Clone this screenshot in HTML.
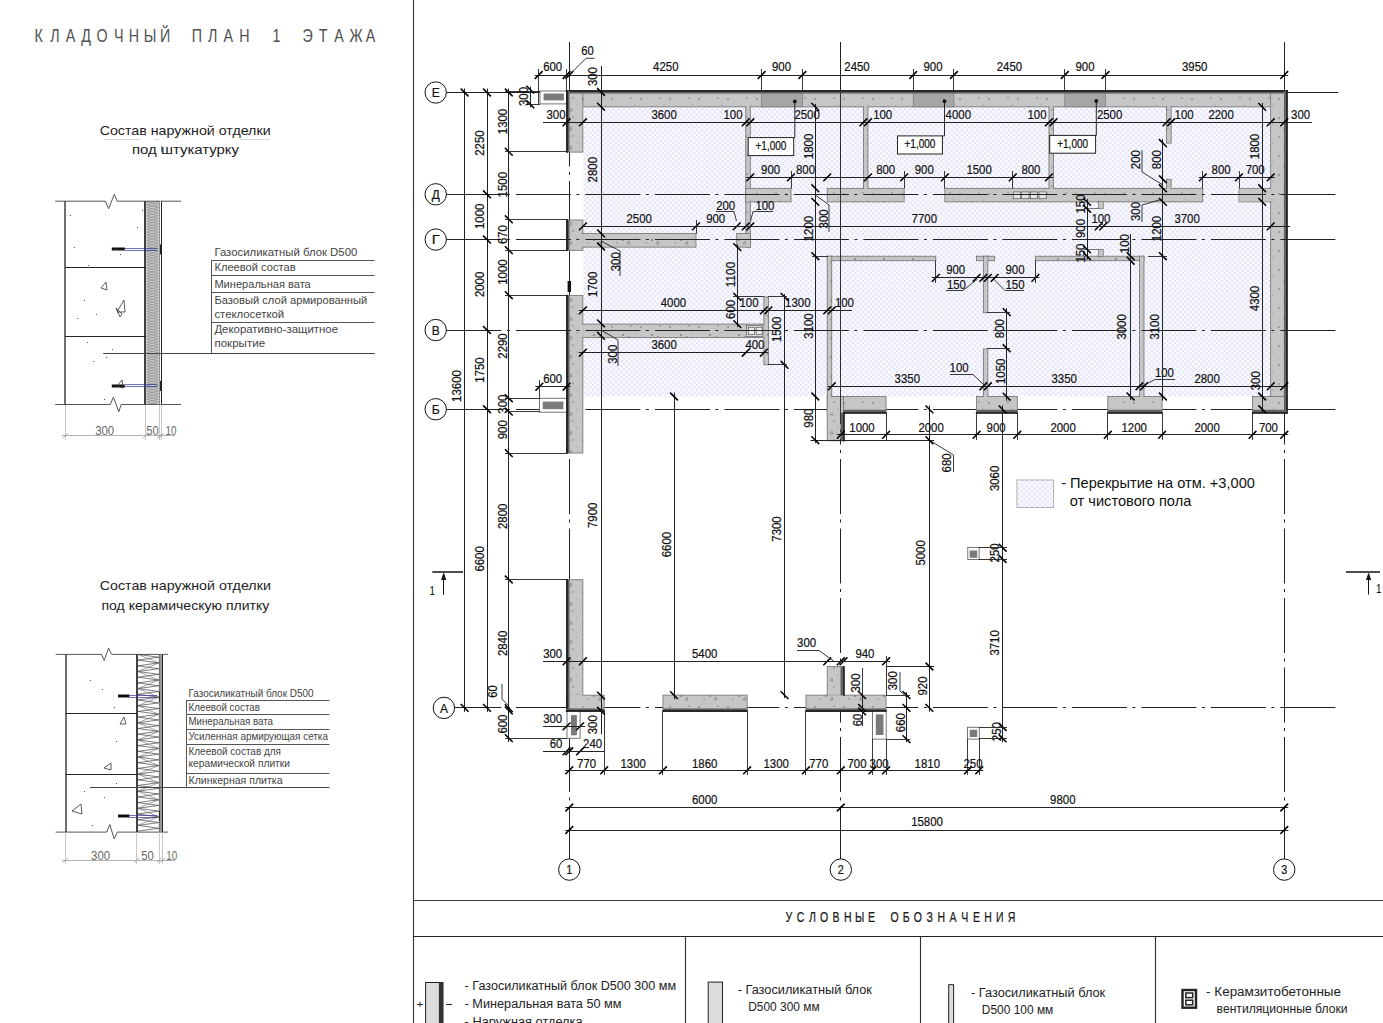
<!DOCTYPE html><html><head><meta charset="utf-8"><style>html,body{margin:0;padding:0;background:#fff;width:1383px;height:1023px;overflow:hidden}svg{display:block}text{font-family:"Liberation Sans",sans-serif}</style></head><body>
<svg width="1383" height="1023" viewBox="0 0 1383 1023">
<defs>
<pattern id="hatch" patternUnits="userSpaceOnUse" width="5.2" height="5.2">
<rect width="5.2" height="5.2" fill="#fbfbff"/>
<path d="M0,0 L5.2,5.2 M5.2,0 L0,5.2" stroke="#dadaf6" stroke-width="0.75"/>
</pattern>
<pattern id="speck" patternUnits="userSpaceOnUse" width="29" height="19">
<rect width="29" height="19" fill="#c6c6c6"/>
<circle cx="3" cy="4" r="0.8" fill="#6a6a6a"/>
<circle cx="14" cy="12" r="0.9" fill="#777"/>
<circle cx="22" cy="3" r="0.7" fill="#707070"/>
<circle cx="8" cy="15" r="0.7" fill="#808080"/>
<path d="M18,16 l2,-3 l1,3 z" fill="none" stroke="#777" stroke-width="0.6"/>
<circle cx="26" cy="10" r="0.6" fill="#888"/>
</pattern>
</defs>
<line x1="413.5" y1="0" x2="413.5" y2="1023" stroke="#3a3a3a" stroke-width="1.15"/>
<line x1="413" y1="900.5" x2="1383" y2="900.5" stroke="#3a3a3a" stroke-width="1.15"/>
<line x1="413" y1="936.5" x2="1383" y2="936.5" stroke="#222" stroke-width="1.15"/>
<line x1="685.5" y1="936" x2="685.5" y2="1023" stroke="#333" stroke-width="1.15"/>
<line x1="920.5" y1="936" x2="920.5" y2="1023" stroke="#333" stroke-width="1.15"/>
<line x1="1155.5" y1="936" x2="1155.5" y2="1023" stroke="#333" stroke-width="1.15"/>
<rect x="583.3" y="106.9" width="687" height="289.5" fill="url(#hatch)" stroke="none" stroke-width="1"/>
<line x1="446.4" y1="409.5" x2="1338.4" y2="409.5" stroke="#222" stroke-width="1" stroke-dasharray="55 5.5 3 6"/>
<line x1="446.4" y1="707.5" x2="1338.4" y2="707.5" stroke="#222" stroke-width="1" stroke-dasharray="55 5.5 3 6"/>
<line x1="446.4" y1="92.5" x2="567" y2="92.5" stroke="#222" stroke-width="1"/>
<line x1="1287" y1="92.5" x2="1338.4" y2="92.5" stroke="#222" stroke-width="1"/>
<line x1="569.5" y1="42" x2="569.5" y2="858.9" stroke="#222" stroke-width="1" stroke-dasharray="55 5.5 3 6"/>
<line x1="840.5" y1="42" x2="840.5" y2="858.9" stroke="#222" stroke-width="1" stroke-dasharray="55 5.5 3 6"/>
<line x1="1284.5" y1="42" x2="1284.5" y2="858.9" stroke="#222" stroke-width="1" stroke-dasharray="55 5.5 3 6"/>
<circle cx="435.7" cy="92.5" r="10.7" stroke="#111" stroke-width="1" fill="#fff"/>
<text x="435.7" y="97.18" font-size="13" text-anchor="middle" fill="#111" textLength="8" lengthAdjust="spacingAndGlyphs" font-family="Liberation Sans" stroke="#111" stroke-width="0.22">Е</text>
<circle cx="435.7" cy="194.31" r="10.7" stroke="#111" stroke-width="1" fill="#fff"/>
<text x="435.7" y="198.99" font-size="13" text-anchor="middle" fill="#111" textLength="8" lengthAdjust="spacingAndGlyphs" font-family="Liberation Sans" stroke="#111" stroke-width="0.22">Д</text>
<circle cx="435.7" cy="239.56" r="10.7" stroke="#111" stroke-width="1" fill="#fff"/>
<text x="435.7" y="244.24" font-size="13" text-anchor="middle" fill="#111" textLength="8" lengthAdjust="spacingAndGlyphs" font-family="Liberation Sans" stroke="#111" stroke-width="0.22">Г</text>
<circle cx="435.7" cy="330.06" r="10.7" stroke="#111" stroke-width="1" fill="#fff"/>
<text x="435.7" y="334.74" font-size="13" text-anchor="middle" fill="#111" textLength="8" lengthAdjust="spacingAndGlyphs" font-family="Liberation Sans" stroke="#111" stroke-width="0.22">В</text>
<circle cx="435.7" cy="409.25" r="10.7" stroke="#111" stroke-width="1" fill="#fff"/>
<text x="435.7" y="413.93" font-size="13" text-anchor="middle" fill="#111" textLength="8" lengthAdjust="spacingAndGlyphs" font-family="Liberation Sans" stroke="#111" stroke-width="0.22">Б</text>
<circle cx="443.9" cy="707.9" r="10.7" stroke="#111" stroke-width="1" fill="#fff"/>
<text x="443.9" y="712.58" font-size="13" text-anchor="middle" fill="#111" textLength="8" lengthAdjust="spacingAndGlyphs" font-family="Liberation Sans" stroke="#111" stroke-width="0.22">А</text>
<circle cx="569.3" cy="869.6" r="10.7" stroke="#111" stroke-width="1" fill="#fff"/>
<text x="569.3" y="874.28" font-size="13" text-anchor="middle" fill="#111" textLength="6" lengthAdjust="spacingAndGlyphs" font-family="Liberation Sans" stroke="#111" stroke-width="0.22">1</text>
<circle cx="840.8" cy="869.6" r="10.7" stroke="#111" stroke-width="1" fill="#fff"/>
<text x="840.8" y="874.28" font-size="13" text-anchor="middle" fill="#111" textLength="6" lengthAdjust="spacingAndGlyphs" font-family="Liberation Sans" stroke="#111" stroke-width="0.22">2</text>
<circle cx="1284.25" cy="869.6" r="10.7" stroke="#111" stroke-width="1" fill="#fff"/>
<text x="1284.25" y="874.28" font-size="13" text-anchor="middle" fill="#111" textLength="6" lengthAdjust="spacingAndGlyphs" font-family="Liberation Sans" stroke="#111" stroke-width="0.22">3</text>
<rect x="566.58" y="90.58" width="720.38" height="16.29" fill="url(#speck)" stroke="#707070" stroke-width="0.8"/>
<rect x="761.61" y="90.58" width="40.73" height="16.29" fill="#a6a6a6" stroke="#707070" stroke-width="0.6"/>
<rect x="913.2" y="90.58" width="40.73" height="16.29" fill="#a6a6a6" stroke="#707070" stroke-width="0.6"/>
<rect x="1064.79" y="90.58" width="40.72" height="16.29" fill="#a6a6a6" stroke="#707070" stroke-width="0.6"/>
<rect x="1270.67" y="90.58" width="16.29" height="322.18" fill="url(#speck)" stroke="#707070" stroke-width="0.8"/>
<rect x="1271.08" y="106.28" width="12.89" height="1.2" fill="#c6c6c6" stroke="none" stroke-width="1"/>
<rect x="566.58" y="90.58" width="16.29" height="61.54" fill="url(#speck)" stroke="#707070" stroke-width="0.8"/>
<rect x="566.58" y="220" width="16.29" height="30.32" fill="url(#speck)" stroke="#707070" stroke-width="0.8"/>
<rect x="566.58" y="295.57" width="16.29" height="157.47" fill="url(#speck)" stroke="#707070" stroke-width="0.8"/>
<rect x="569.58" y="106.28" width="12.89" height="1.2" fill="#c6c6c6" stroke="none" stroke-width="1"/>
<rect x="567.6" y="281" width="3.4" height="11" fill="#111" stroke="none" stroke-width="1"/>
<rect x="827.22" y="396.48" width="58.83" height="16.29" fill="url(#speck)" stroke="#707070" stroke-width="0.8"/>
<rect x="827.22" y="396.48" width="16.29" height="44.34" fill="url(#speck)" stroke="#707070" stroke-width="0.8"/>
<rect x="827.62" y="409.56" width="12.89" height="3.6" fill="#c6c6c6" stroke="none" stroke-width="1"/>
<rect x="976.55" y="396.48" width="40.72" height="16.29" fill="url(#speck)" stroke="#707070" stroke-width="0.8"/>
<rect x="1107.78" y="396.48" width="54.3" height="16.29" fill="url(#speck)" stroke="#707070" stroke-width="0.8"/>
<rect x="1252.57" y="396.48" width="34.39" height="16.29" fill="url(#speck)" stroke="#707070" stroke-width="0.8"/>
<rect x="566.58" y="579.74" width="16.29" height="131.68" fill="url(#speck)" stroke="#707070" stroke-width="0.8"/>
<rect x="566.58" y="695.12" width="37.56" height="16.29" fill="url(#speck)" stroke="#707070" stroke-width="0.8"/>
<rect x="569.58" y="694.52" width="12.89" height="13.69" fill="#c6c6c6" stroke="none" stroke-width="1"/>
<rect x="662.97" y="695.12" width="84.16" height="16.29" fill="url(#speck)" stroke="#707070" stroke-width="0.8"/>
<rect x="805.96" y="695.12" width="80.09" height="16.29" fill="url(#speck)" stroke="#707070" stroke-width="0.8"/>
<rect x="827.22" y="666.62" width="16.29" height="28.51" fill="url(#speck)" stroke="#707070" stroke-width="0.8"/>
<rect x="827.62" y="694.52" width="15.49" height="1.2" fill="#c6c6c6" stroke="none" stroke-width="1"/>
<rect x="745.77" y="106.88" width="4.52" height="140.27" fill="url(#speck)" stroke="#707070" stroke-width="0.8"/>
<rect x="582.88" y="233.57" width="113.12" height="13.57" fill="url(#speck)" stroke="#707070" stroke-width="0.8"/>
<rect x="736.72" y="233.57" width="13.58" height="13.57" fill="url(#speck)" stroke="#707070" stroke-width="0.8"/>
<rect x="745.77" y="188.32" width="45.25" height="13.57" fill="url(#speck)" stroke="#707070" stroke-width="0.8"/>
<rect x="827.22" y="188.32" width="76.92" height="13.57" fill="url(#speck)" stroke="#707070" stroke-width="0.8"/>
<rect x="944.88" y="188.32" width="257.92" height="13.57" fill="url(#speck)" stroke="#707070" stroke-width="0.8"/>
<rect x="1239" y="188.32" width="31.67" height="13.57" fill="url(#speck)" stroke="#707070" stroke-width="0.8"/>
<rect x="863.42" y="106.88" width="4.52" height="81.45" fill="url(#speck)" stroke="#707070" stroke-width="0.8"/>
<rect x="1048.95" y="106.88" width="4.53" height="81.45" fill="url(#speck)" stroke="#707070" stroke-width="0.8"/>
<rect x="1166.6" y="106.88" width="4.53" height="36.2" fill="url(#speck)" stroke="#707070" stroke-width="0.8"/>
<rect x="1166.6" y="179.27" width="4.53" height="9.05" fill="url(#speck)" stroke="#707070" stroke-width="0.8"/>
<rect x="582.88" y="324.07" width="181" height="13.57" fill="url(#speck)" stroke="#707070" stroke-width="0.8"/>
<rect x="763.88" y="296.93" width="4.52" height="67.88" fill="url(#speck)" stroke="#707070" stroke-width="0.8"/>
<rect x="827.22" y="256.2" width="108.6" height="4.52" fill="url(#speck)" stroke="#707070" stroke-width="0.8"/>
<rect x="827.22" y="256.2" width="4.53" height="140.28" fill="url(#speck)" stroke="#707070" stroke-width="0.8"/>
<rect x="976.55" y="256.2" width="18.1" height="4.52" fill="url(#speck)" stroke="#707070" stroke-width="0.8"/>
<rect x="983.34" y="256.2" width="4.53" height="56.56" fill="url(#speck)" stroke="#707070" stroke-width="0.8"/>
<rect x="983.34" y="348.96" width="4.53" height="47.51" fill="url(#speck)" stroke="#707070" stroke-width="0.8"/>
<rect x="1035.38" y="256.2" width="108.6" height="4.52" fill="url(#speck)" stroke="#707070" stroke-width="0.8"/>
<rect x="1139.45" y="256.2" width="4.53" height="140.28" fill="url(#speck)" stroke="#707070" stroke-width="0.8"/>
<rect x="746.32" y="188.87" width="3.44" height="12.49" fill="#c6c6c6" stroke="none" stroke-width="1"/>
<rect x="746.32" y="234.12" width="3.44" height="12.49" fill="#c6c6c6" stroke="none" stroke-width="1"/>
<rect x="827.77" y="256.74" width="3.44" height="3.44" fill="#c6c6c6" stroke="none" stroke-width="1"/>
<rect x="983.88" y="256.74" width="3.44" height="3.44" fill="#c6c6c6" stroke="none" stroke-width="1"/>
<rect x="1139.99" y="256.74" width="3.44" height="3.44" fill="#c6c6c6" stroke="none" stroke-width="1"/>
<rect x="863.97" y="187.42" width="3.44" height="1.81" fill="#c6c6c6" stroke="none" stroke-width="1"/>
<rect x="1049.49" y="187.42" width="3.44" height="1.81" fill="#c6c6c6" stroke="none" stroke-width="1"/>
<rect x="1167.14" y="187.42" width="3.44" height="1.81" fill="#c6c6c6" stroke="none" stroke-width="1"/>
<rect x="863.97" y="105.97" width="3.44" height="1.81" fill="#c6c6c6" stroke="none" stroke-width="1"/>
<rect x="1049.49" y="105.97" width="3.44" height="1.81" fill="#c6c6c6" stroke="none" stroke-width="1"/>
<rect x="1167.14" y="105.97" width="3.44" height="1.81" fill="#c6c6c6" stroke="none" stroke-width="1"/>
<rect x="746.32" y="105.97" width="3.44" height="1.81" fill="#c6c6c6" stroke="none" stroke-width="1"/>
<rect x="1239.54" y="188.87" width="32.04" height="12.49" fill="#c6c6c6" stroke="none" stroke-width="1"/>
<rect x="581.97" y="234.12" width="1.81" height="12.49" fill="#c6c6c6" stroke="none" stroke-width="1"/>
<rect x="581.97" y="324.62" width="1.81" height="12.49" fill="#c6c6c6" stroke="none" stroke-width="1"/>
<rect x="762.97" y="324.62" width="1.81" height="12.49" fill="#c6c6c6" stroke="none" stroke-width="1"/>
<rect x="827.77" y="395.57" width="3.44" height="1.81" fill="#c6c6c6" stroke="none" stroke-width="1"/>
<rect x="983.88" y="395.57" width="3.44" height="1.81" fill="#c6c6c6" stroke="none" stroke-width="1"/>
<rect x="1139.99" y="395.57" width="3.44" height="1.81" fill="#c6c6c6" stroke="none" stroke-width="1"/>
<rect x="1253.12" y="397.02" width="18.46" height="15.2" fill="#c6c6c6" stroke="none" stroke-width="1"/>
<rect x="746.68" y="325.43" width="16.29" height="10.86" fill="#d8d8d8" stroke="#555" stroke-width="0.6"/>
<rect x="748.49" y="327.24" width="5.88" height="7.24" fill="#eee" stroke="#444" stroke-width="0.6"/>
<rect x="756.18" y="327.24" width="5.88" height="7.24" fill="#eee" stroke="#444" stroke-width="0.6"/>
<rect x="1013.2" y="191.94" width="7.24" height="6.79" fill="#e4e4e4" stroke="#444" stroke-width="0.6"/>
<rect x="1021.8" y="191.94" width="7.24" height="6.79" fill="#e4e4e4" stroke="#444" stroke-width="0.6"/>
<rect x="1030.4" y="191.94" width="7.24" height="6.79" fill="#e4e4e4" stroke="#444" stroke-width="0.6"/>
<rect x="1038.99" y="191.94" width="7.24" height="6.79" fill="#e4e4e4" stroke="#444" stroke-width="0.6"/>
<rect x="540" y="91" width="27.4" height="12.9" fill="#fff" stroke="#666" stroke-width="0.9"/>
<rect x="543.6" y="93.5" width="20.3" height="6.9" fill="#7a7a7a" stroke="none" stroke-width="1"/>
<rect x="539.4" y="398.3" width="27.6" height="13.9" fill="#fff" stroke="#666" stroke-width="0.9"/>
<rect x="542.7" y="401.6" width="20.7" height="7.6" fill="#7a7a7a" stroke="none" stroke-width="1"/>
<rect x="567" y="710.8" width="13.1" height="27.5" fill="#fff" stroke="#666" stroke-width="0.9"/>
<rect x="571" y="715.1" width="5.9" height="20.2" fill="#7a7a7a" stroke="none" stroke-width="1"/>
<rect x="872.5" y="710.3" width="13.7" height="28.8" fill="#fff" stroke="#666" stroke-width="0.9"/>
<rect x="875.8" y="714.4" width="7.7" height="20.6" fill="#7a7a7a" stroke="none" stroke-width="1"/>
<rect x="967.5" y="727.3" width="11.8" height="11.8" fill="#fff" stroke="#666" stroke-width="0.9"/>
<rect x="969.7" y="729.8" width="7.5" height="7.2" fill="#7a7a7a" stroke="none" stroke-width="1"/>
<rect x="967.8" y="547.4" width="11.3" height="12.1" fill="#fff" stroke="#666" stroke-width="0.9"/>
<rect x="969.7" y="550.5" width="7.5" height="7.3" fill="#7a7a7a" stroke="none" stroke-width="1"/>
<rect x="566.58" y="90.58" width="720.38" height="3" fill="#626262" stroke="none" stroke-width="1"/>
<line x1="565.88" y1="91" x2="1287.66" y2="91" stroke="#111" stroke-width="1.5"/>
<rect x="1283.96" y="90.58" width="3" height="322.18" fill="#626262" stroke="none" stroke-width="1"/>
<line x1="1287" y1="89.88" x2="1287" y2="413.46" stroke="#111" stroke-width="1.5"/>
<rect x="566.58" y="90.58" width="3" height="61.54" fill="#626262" stroke="none" stroke-width="1"/>
<line x1="567" y1="89.88" x2="567" y2="152.82" stroke="#111" stroke-width="1.5"/>
<rect x="566.58" y="220" width="3" height="30.32" fill="#626262" stroke="none" stroke-width="1"/>
<line x1="567" y1="219.3" x2="567" y2="251.02" stroke="#111" stroke-width="1.5"/>
<rect x="566.58" y="295.57" width="3" height="157.47" fill="#626262" stroke="none" stroke-width="1"/>
<line x1="567" y1="294.87" x2="567" y2="453.74" stroke="#111" stroke-width="1.5"/>
<rect x="843.51" y="409.76" width="42.54" height="3" fill="#626262" stroke="none" stroke-width="1"/>
<line x1="842.81" y1="413" x2="886.75" y2="413" stroke="#111" stroke-width="1.5"/>
<rect x="840.51" y="412.76" width="3" height="28.06" fill="#626262" stroke="none" stroke-width="1"/>
<line x1="844" y1="412.06" x2="844" y2="441.52" stroke="#111" stroke-width="1.5"/>
<rect x="976.55" y="409.76" width="40.72" height="3" fill="#626262" stroke="none" stroke-width="1"/>
<line x1="975.85" y1="413" x2="1017.97" y2="413" stroke="#111" stroke-width="1.5"/>
<rect x="1107.78" y="409.76" width="54.3" height="3" fill="#626262" stroke="none" stroke-width="1"/>
<line x1="1107.08" y1="413" x2="1162.77" y2="413" stroke="#111" stroke-width="1.5"/>
<rect x="1252.57" y="409.76" width="34.39" height="3" fill="#626262" stroke="none" stroke-width="1"/>
<line x1="1251.87" y1="413" x2="1287.66" y2="413" stroke="#111" stroke-width="1.5"/>
<rect x="566.58" y="579.74" width="3" height="131.68" fill="#626262" stroke="none" stroke-width="1"/>
<line x1="567" y1="579.04" x2="567" y2="712.12" stroke="#111" stroke-width="1.5"/>
<rect x="566.58" y="708.41" width="37.56" height="3" fill="#626262" stroke="none" stroke-width="1"/>
<line x1="565.88" y1="711" x2="604.84" y2="711" stroke="#111" stroke-width="1.5"/>
<rect x="662.97" y="708.41" width="84.16" height="3" fill="#626262" stroke="none" stroke-width="1"/>
<line x1="662.27" y1="711" x2="747.83" y2="711" stroke="#111" stroke-width="1.5"/>
<rect x="805.96" y="708.41" width="80.09" height="3" fill="#626262" stroke="none" stroke-width="1"/>
<line x1="805.26" y1="711" x2="886.75" y2="711" stroke="#111" stroke-width="1.5"/>
<rect x="840.51" y="666.62" width="3" height="28.51" fill="#626262" stroke="none" stroke-width="1"/>
<line x1="844" y1="665.92" x2="844" y2="695.82" stroke="#111" stroke-width="1.5"/>
<rect x="1098.5" y="201.4" width="4.75" height="7.29" fill="#c6c6c6" stroke="#707070" stroke-width="0.7"/>
<line x1="1084" y1="208.5" x2="1098.5" y2="208.5" stroke="#555" stroke-width="0.8"/>
<rect x="1098.5" y="249.41" width="4.75" height="7.29" fill="#c6c6c6" stroke="#707070" stroke-width="0.7"/>
<line x1="1084" y1="249.5" x2="1098.5" y2="249.5" stroke="#555" stroke-width="0.8"/>
<line x1="446.4" y1="194.5" x2="1338.4" y2="194.5" stroke="#222" stroke-width="1" stroke-dasharray="55 5.5 3 6"/>
<line x1="446.4" y1="239.5" x2="1338.4" y2="239.5" stroke="#222" stroke-width="1" stroke-dasharray="55 5.5 3 6"/>
<line x1="446.4" y1="330.5" x2="1338.4" y2="330.5" stroke="#222" stroke-width="1" stroke-dasharray="55 5.5 3 6"/>
<line x1="840.5" y1="91" x2="840.5" y2="440" stroke="#333" stroke-width="1" stroke-dasharray="55 5.5 3 6"/>
<line x1="534.7" y1="75.5" x2="1288.25" y2="75.5" stroke="#222" stroke-width="1"/>
<line x1="534.8" y1="78.9" x2="542.6" y2="71.1" stroke="#000" stroke-width="1.55"/>
<line x1="562.68" y1="78.9" x2="570.48" y2="71.1" stroke="#000" stroke-width="1.55"/>
<line x1="565.4" y1="78.9" x2="573.2" y2="71.1" stroke="#000" stroke-width="1.55"/>
<line x1="757.71" y1="78.9" x2="765.51" y2="71.1" stroke="#000" stroke-width="1.55"/>
<line x1="798.44" y1="78.9" x2="806.24" y2="71.1" stroke="#000" stroke-width="1.55"/>
<line x1="909.3" y1="78.9" x2="917.1" y2="71.1" stroke="#000" stroke-width="1.55"/>
<line x1="950.02" y1="78.9" x2="957.82" y2="71.1" stroke="#000" stroke-width="1.55"/>
<line x1="1060.89" y1="78.9" x2="1068.69" y2="71.1" stroke="#000" stroke-width="1.55"/>
<line x1="1101.61" y1="78.9" x2="1109.41" y2="71.1" stroke="#000" stroke-width="1.55"/>
<line x1="1280.35" y1="78.9" x2="1288.15" y2="71.1" stroke="#000" stroke-width="1.55"/>
<line x1="538.5" y1="69" x2="538.5" y2="104" stroke="#222" stroke-width="0.9"/>
<line x1="566.5" y1="69" x2="566.5" y2="104" stroke="#222" stroke-width="0.9"/>
<line x1="761.5" y1="69" x2="761.5" y2="91" stroke="#222" stroke-width="0.9"/>
<line x1="802.5" y1="69" x2="802.5" y2="91" stroke="#222" stroke-width="0.9"/>
<line x1="913.5" y1="69" x2="913.5" y2="91" stroke="#222" stroke-width="0.9"/>
<line x1="953.5" y1="69" x2="953.5" y2="91" stroke="#222" stroke-width="0.9"/>
<line x1="1064.5" y1="69" x2="1064.5" y2="91" stroke="#222" stroke-width="0.9"/>
<line x1="1105.5" y1="69" x2="1105.5" y2="91" stroke="#222" stroke-width="0.9"/>
<polyline points="569.3,75 586,58.3 594.5,58.3" stroke="#222" stroke-width="0.9" fill="none"/>
<text x="587.6" y="55.28" font-size="13" text-anchor="middle" fill="#111" textLength="12.5" lengthAdjust="spacingAndGlyphs" font-family="Liberation Sans" stroke="#111" stroke-width="0.22">60</text>
<text x="552.7" y="71.18" font-size="13" text-anchor="middle" fill="#111" textLength="19.05" lengthAdjust="spacingAndGlyphs" font-family="Liberation Sans" stroke="#111" stroke-width="0.22">600</text>
<text x="665.8" y="71.18" font-size="13" text-anchor="middle" fill="#111" textLength="25.4" lengthAdjust="spacingAndGlyphs" font-family="Liberation Sans" stroke="#111" stroke-width="0.22">4250</text>
<text x="781.5" y="71.18" font-size="13" text-anchor="middle" fill="#111" textLength="19.05" lengthAdjust="spacingAndGlyphs" font-family="Liberation Sans" stroke="#111" stroke-width="0.22">900</text>
<text x="857" y="71.18" font-size="13" text-anchor="middle" fill="#111" textLength="25.4" lengthAdjust="spacingAndGlyphs" font-family="Liberation Sans" stroke="#111" stroke-width="0.22">2450</text>
<text x="933" y="71.18" font-size="13" text-anchor="middle" fill="#111" textLength="19.05" lengthAdjust="spacingAndGlyphs" font-family="Liberation Sans" stroke="#111" stroke-width="0.22">900</text>
<text x="1009.4" y="71.18" font-size="13" text-anchor="middle" fill="#111" textLength="25.4" lengthAdjust="spacingAndGlyphs" font-family="Liberation Sans" stroke="#111" stroke-width="0.22">2450</text>
<text x="1085" y="71.18" font-size="13" text-anchor="middle" fill="#111" textLength="19.05" lengthAdjust="spacingAndGlyphs" font-family="Liberation Sans" stroke="#111" stroke-width="0.22">900</text>
<text x="1194.7" y="71.18" font-size="13" text-anchor="middle" fill="#111" textLength="25.4" lengthAdjust="spacingAndGlyphs" font-family="Liberation Sans" stroke="#111" stroke-width="0.22">3950</text>
<line x1="566.58" y1="122.5" x2="1284.25" y2="122.5" stroke="#222" stroke-width="1"/>
<line x1="562.68" y1="126.2" x2="570.48" y2="118.4" stroke="#000" stroke-width="1.55"/>
<line x1="578.98" y1="126.2" x2="586.77" y2="118.4" stroke="#000" stroke-width="1.55"/>
<line x1="741.88" y1="126.2" x2="749.67" y2="118.4" stroke="#000" stroke-width="1.55"/>
<line x1="746.4" y1="126.2" x2="754.2" y2="118.4" stroke="#000" stroke-width="1.55"/>
<line x1="859.52" y1="126.2" x2="867.32" y2="118.4" stroke="#000" stroke-width="1.55"/>
<line x1="864.05" y1="126.2" x2="871.85" y2="118.4" stroke="#000" stroke-width="1.55"/>
<line x1="1045.05" y1="126.2" x2="1052.85" y2="118.4" stroke="#000" stroke-width="1.55"/>
<line x1="1049.57" y1="126.2" x2="1057.38" y2="118.4" stroke="#000" stroke-width="1.55"/>
<line x1="1162.7" y1="126.2" x2="1170.5" y2="118.4" stroke="#000" stroke-width="1.55"/>
<line x1="1167.22" y1="126.2" x2="1175.03" y2="118.4" stroke="#000" stroke-width="1.55"/>
<line x1="1266.77" y1="126.2" x2="1274.58" y2="118.4" stroke="#000" stroke-width="1.55"/>
<line x1="1280.35" y1="126.2" x2="1288.15" y2="118.4" stroke="#000" stroke-width="1.55"/>
<line x1="543" y1="122.5" x2="567" y2="122.5" stroke="#222" stroke-width="1"/>
<line x1="1284" y1="122.5" x2="1312" y2="122.5" stroke="#222" stroke-width="1"/>
<text x="556" y="119.18" font-size="13" text-anchor="middle" fill="#111" textLength="19.05" lengthAdjust="spacingAndGlyphs" font-family="Liberation Sans" stroke="#111" stroke-width="0.22">300</text>
<text x="664.1" y="119.18" font-size="13" text-anchor="middle" fill="#111" textLength="25.4" lengthAdjust="spacingAndGlyphs" font-family="Liberation Sans" stroke="#111" stroke-width="0.22">3600</text>
<text x="733" y="119.18" font-size="13" text-anchor="middle" fill="#111" textLength="19.05" lengthAdjust="spacingAndGlyphs" font-family="Liberation Sans" stroke="#111" stroke-width="0.22">100</text>
<text x="807.1" y="119.18" font-size="13" text-anchor="middle" fill="#111" textLength="25.4" lengthAdjust="spacingAndGlyphs" font-family="Liberation Sans" stroke="#111" stroke-width="0.22">2500</text>
<text x="882.7" y="119.18" font-size="13" text-anchor="middle" fill="#111" textLength="19.05" lengthAdjust="spacingAndGlyphs" font-family="Liberation Sans" stroke="#111" stroke-width="0.22">100</text>
<text x="958.3" y="119.18" font-size="13" text-anchor="middle" fill="#111" textLength="25.4" lengthAdjust="spacingAndGlyphs" font-family="Liberation Sans" stroke="#111" stroke-width="0.22">4000</text>
<text x="1037" y="119.18" font-size="13" text-anchor="middle" fill="#111" textLength="19.05" lengthAdjust="spacingAndGlyphs" font-family="Liberation Sans" stroke="#111" stroke-width="0.22">100</text>
<text x="1109.6" y="119.18" font-size="13" text-anchor="middle" fill="#111" textLength="25.4" lengthAdjust="spacingAndGlyphs" font-family="Liberation Sans" stroke="#111" stroke-width="0.22">2500</text>
<text x="1184.1" y="119.18" font-size="13" text-anchor="middle" fill="#111" textLength="19.05" lengthAdjust="spacingAndGlyphs" font-family="Liberation Sans" stroke="#111" stroke-width="0.22">100</text>
<text x="1221.1" y="119.18" font-size="13" text-anchor="middle" fill="#111" textLength="25.4" lengthAdjust="spacingAndGlyphs" font-family="Liberation Sans" stroke="#111" stroke-width="0.22">2200</text>
<text x="1300.6" y="119.18" font-size="13" text-anchor="middle" fill="#111" textLength="19.05" lengthAdjust="spacingAndGlyphs" font-family="Liberation Sans" stroke="#111" stroke-width="0.22">300</text>
<line x1="746.3" y1="177.5" x2="1052.95" y2="177.5" stroke="#222" stroke-width="1"/>
<line x1="746.4" y1="181.3" x2="754.2" y2="173.5" stroke="#000" stroke-width="1.55"/>
<line x1="787.12" y1="181.3" x2="794.92" y2="173.5" stroke="#000" stroke-width="1.55"/>
<line x1="823.32" y1="181.3" x2="831.12" y2="173.5" stroke="#000" stroke-width="1.55"/>
<line x1="864.05" y1="181.3" x2="871.85" y2="173.5" stroke="#000" stroke-width="1.55"/>
<line x1="900.25" y1="181.3" x2="908.05" y2="173.5" stroke="#000" stroke-width="1.55"/>
<line x1="940.98" y1="181.3" x2="948.77" y2="173.5" stroke="#000" stroke-width="1.55"/>
<line x1="1008.85" y1="181.3" x2="1016.65" y2="173.5" stroke="#000" stroke-width="1.55"/>
<line x1="1045.05" y1="181.3" x2="1052.85" y2="173.5" stroke="#000" stroke-width="1.55"/>
<line x1="1198.8" y1="177.5" x2="1274.67" y2="177.5" stroke="#222" stroke-width="1"/>
<line x1="1198.9" y1="181.3" x2="1206.7" y2="173.5" stroke="#000" stroke-width="1.55"/>
<line x1="1235.1" y1="181.3" x2="1242.9" y2="173.5" stroke="#000" stroke-width="1.55"/>
<line x1="1266.77" y1="181.3" x2="1274.58" y2="173.5" stroke="#000" stroke-width="1.55"/>
<line x1="791.5" y1="171" x2="791.5" y2="188.32" stroke="#222" stroke-width="0.9"/>
<line x1="904.5" y1="171" x2="904.5" y2="188.32" stroke="#222" stroke-width="0.9"/>
<line x1="944.5" y1="171" x2="944.5" y2="188.32" stroke="#222" stroke-width="0.9"/>
<line x1="1012.5" y1="171" x2="1012.5" y2="188.32" stroke="#222" stroke-width="0.9"/>
<line x1="1239.5" y1="171" x2="1239.5" y2="188.32" stroke="#222" stroke-width="0.9"/>
<line x1="1202.5" y1="171" x2="1202.5" y2="188.32" stroke="#222" stroke-width="0.9"/>
<text x="770.6" y="174.48" font-size="13" text-anchor="middle" fill="#111" textLength="19.05" lengthAdjust="spacingAndGlyphs" font-family="Liberation Sans" stroke="#111" stroke-width="0.22">900</text>
<text x="805.5" y="174.48" font-size="13" text-anchor="middle" fill="#111" textLength="19.05" lengthAdjust="spacingAndGlyphs" font-family="Liberation Sans" stroke="#111" stroke-width="0.22">800</text>
<text x="885.7" y="174.48" font-size="13" text-anchor="middle" fill="#111" textLength="19.05" lengthAdjust="spacingAndGlyphs" font-family="Liberation Sans" stroke="#111" stroke-width="0.22">800</text>
<text x="924.3" y="174.48" font-size="13" text-anchor="middle" fill="#111" textLength="19.05" lengthAdjust="spacingAndGlyphs" font-family="Liberation Sans" stroke="#111" stroke-width="0.22">900</text>
<text x="979.1" y="174.48" font-size="13" text-anchor="middle" fill="#111" textLength="25.4" lengthAdjust="spacingAndGlyphs" font-family="Liberation Sans" stroke="#111" stroke-width="0.22">1500</text>
<text x="1030.9" y="174.48" font-size="13" text-anchor="middle" fill="#111" textLength="19.05" lengthAdjust="spacingAndGlyphs" font-family="Liberation Sans" stroke="#111" stroke-width="0.22">800</text>
<text x="1221.1" y="174.48" font-size="13" text-anchor="middle" fill="#111" textLength="19.05" lengthAdjust="spacingAndGlyphs" font-family="Liberation Sans" stroke="#111" stroke-width="0.22">800</text>
<text x="1255.2" y="174.48" font-size="13" text-anchor="middle" fill="#111" textLength="19.05" lengthAdjust="spacingAndGlyphs" font-family="Liberation Sans" stroke="#111" stroke-width="0.22">700</text>
<line x1="582.88" y1="226.5" x2="1270.67" y2="226.5" stroke="#222" stroke-width="1"/>
<line x1="578.98" y1="230.3" x2="586.77" y2="222.5" stroke="#000" stroke-width="1.55"/>
<line x1="692.1" y1="230.3" x2="699.9" y2="222.5" stroke="#000" stroke-width="1.55"/>
<line x1="732.82" y1="230.3" x2="740.62" y2="222.5" stroke="#000" stroke-width="1.55"/>
<line x1="741.88" y1="230.3" x2="749.67" y2="222.5" stroke="#000" stroke-width="1.55"/>
<line x1="746.4" y1="230.3" x2="754.2" y2="222.5" stroke="#000" stroke-width="1.55"/>
<line x1="1094.82" y1="230.3" x2="1102.62" y2="222.5" stroke="#000" stroke-width="1.55"/>
<line x1="1099.35" y1="230.3" x2="1107.15" y2="222.5" stroke="#000" stroke-width="1.55"/>
<line x1="1266.77" y1="230.3" x2="1274.58" y2="222.5" stroke="#000" stroke-width="1.55"/>
<line x1="583" y1="226.5" x2="1290" y2="226.5" stroke="#222" stroke-width="1"/>
<line x1="696.5" y1="220" x2="696.5" y2="233.5" stroke="#222" stroke-width="0.9"/>
<text x="639.2" y="223.18" font-size="13" text-anchor="middle" fill="#111" textLength="25.4" lengthAdjust="spacingAndGlyphs" font-family="Liberation Sans" stroke="#111" stroke-width="0.22">2500</text>
<text x="715.7" y="223.18" font-size="13" text-anchor="middle" fill="#111" textLength="19.05" lengthAdjust="spacingAndGlyphs" font-family="Liberation Sans" stroke="#111" stroke-width="0.22">900</text>
<text x="924.3" y="223.18" font-size="13" text-anchor="middle" fill="#111" textLength="25.4" lengthAdjust="spacingAndGlyphs" font-family="Liberation Sans" stroke="#111" stroke-width="0.22">7700</text>
<text x="1187.1" y="223.18" font-size="13" text-anchor="middle" fill="#111" textLength="25.4" lengthAdjust="spacingAndGlyphs" font-family="Liberation Sans" stroke="#111" stroke-width="0.22">3700</text>
<polyline points="736.5,221 734,211.5 716,211.5" stroke="#222" stroke-width="0.9" fill="none"/>
<text x="725.7" y="209.98" font-size="13" text-anchor="middle" fill="#111" textLength="19.05" lengthAdjust="spacingAndGlyphs" font-family="Liberation Sans" stroke="#111" stroke-width="0.22">200</text>
<polyline points="750.5,221 753,211.5 773,211.5" stroke="#222" stroke-width="0.9" fill="none"/>
<text x="764.9" y="209.98" font-size="13" text-anchor="middle" fill="#111" textLength="19.05" lengthAdjust="spacingAndGlyphs" font-family="Liberation Sans" stroke="#111" stroke-width="0.22">100</text>
<polyline points="1100,222 1103,225" stroke="#222" stroke-width="0.9" fill="none"/>
<text x="1100.9" y="222.98" font-size="13" text-anchor="middle" fill="#111" textLength="19.05" lengthAdjust="spacingAndGlyphs" font-family="Liberation Sans" stroke="#111" stroke-width="0.22">100</text>
<line x1="931.82" y1="277.5" x2="1039.38" y2="277.5" stroke="#222" stroke-width="1"/>
<line x1="931.92" y1="281.8" x2="939.72" y2="274" stroke="#000" stroke-width="1.55"/>
<line x1="972.65" y1="281.8" x2="980.45" y2="274" stroke="#000" stroke-width="1.55"/>
<line x1="979.44" y1="281.8" x2="987.24" y2="274" stroke="#000" stroke-width="1.55"/>
<line x1="983.96" y1="281.8" x2="991.76" y2="274" stroke="#000" stroke-width="1.55"/>
<line x1="990.75" y1="281.8" x2="998.55" y2="274" stroke="#000" stroke-width="1.55"/>
<line x1="1031.47" y1="281.8" x2="1039.28" y2="274" stroke="#000" stroke-width="1.55"/>
<line x1="935.5" y1="260.72" x2="935.5" y2="283" stroke="#222" stroke-width="0.9"/>
<line x1="1035.5" y1="260.72" x2="1035.5" y2="283" stroke="#222" stroke-width="0.9"/>
<text x="955.7" y="273.68" font-size="13" text-anchor="middle" fill="#111" textLength="19.05" lengthAdjust="spacingAndGlyphs" font-family="Liberation Sans" stroke="#111" stroke-width="0.22">900</text>
<text x="1015" y="273.68" font-size="13" text-anchor="middle" fill="#111" textLength="19.05" lengthAdjust="spacingAndGlyphs" font-family="Liberation Sans" stroke="#111" stroke-width="0.22">900</text>
<polyline points="977.55,279 963,290.5 946,290.5" stroke="#222" stroke-width="0.9" fill="none"/>
<text x="956.4" y="289.18" font-size="13" text-anchor="middle" fill="#111" textLength="19.05" lengthAdjust="spacingAndGlyphs" font-family="Liberation Sans" stroke="#111" stroke-width="0.22">150</text>
<polyline points="993.65,279 1005,290.5 1024,290.5" stroke="#222" stroke-width="0.9" fill="none"/>
<text x="1015" y="289.18" font-size="13" text-anchor="middle" fill="#111" textLength="19.05" lengthAdjust="spacingAndGlyphs" font-family="Liberation Sans" stroke="#111" stroke-width="0.22">150</text>
<line x1="578.88" y1="310.5" x2="835.75" y2="310.5" stroke="#222" stroke-width="1"/>
<line x1="578.98" y1="314.3" x2="586.77" y2="306.5" stroke="#000" stroke-width="1.55"/>
<line x1="759.98" y1="314.3" x2="767.77" y2="306.5" stroke="#000" stroke-width="1.55"/>
<line x1="764.5" y1="314.3" x2="772.3" y2="306.5" stroke="#000" stroke-width="1.55"/>
<line x1="823.32" y1="314.3" x2="831.12" y2="306.5" stroke="#000" stroke-width="1.55"/>
<line x1="827.85" y1="314.3" x2="835.65" y2="306.5" stroke="#000" stroke-width="1.55"/>
<line x1="831.75" y1="310.5" x2="852" y2="310.5" stroke="#222" stroke-width="1"/>
<text x="673.4" y="307.38" font-size="13" text-anchor="middle" fill="#111" textLength="25.4" lengthAdjust="spacingAndGlyphs" font-family="Liberation Sans" stroke="#111" stroke-width="0.22">4000</text>
<text x="749" y="307.38" font-size="13" text-anchor="middle" fill="#111" textLength="19.05" lengthAdjust="spacingAndGlyphs" font-family="Liberation Sans" stroke="#111" stroke-width="0.22">100</text>
<text x="797.8" y="307.38" font-size="13" text-anchor="middle" fill="#111" textLength="25.4" lengthAdjust="spacingAndGlyphs" font-family="Liberation Sans" stroke="#111" stroke-width="0.22">1300</text>
<text x="844.4" y="307.38" font-size="13" text-anchor="middle" fill="#111" textLength="19.05" lengthAdjust="spacingAndGlyphs" font-family="Liberation Sans" stroke="#111" stroke-width="0.22">100</text>
<line x1="578.88" y1="352.5" x2="767.88" y2="352.5" stroke="#222" stroke-width="1"/>
<line x1="578.98" y1="356.6" x2="586.77" y2="348.8" stroke="#000" stroke-width="1.55"/>
<line x1="741.88" y1="356.6" x2="749.67" y2="348.8" stroke="#000" stroke-width="1.55"/>
<line x1="759.98" y1="356.6" x2="767.77" y2="348.8" stroke="#000" stroke-width="1.55"/>
<text x="664.1" y="348.98" font-size="13" text-anchor="middle" fill="#111" textLength="25.4" lengthAdjust="spacingAndGlyphs" font-family="Liberation Sans" stroke="#111" stroke-width="0.22">3600</text>
<text x="754.9" y="348.98" font-size="13" text-anchor="middle" fill="#111" textLength="19.05" lengthAdjust="spacingAndGlyphs" font-family="Liberation Sans" stroke="#111" stroke-width="0.22">400</text>
<line x1="827.75" y1="386.5" x2="1288.25" y2="386.5" stroke="#222" stroke-width="1"/>
<line x1="827.85" y1="390.2" x2="835.65" y2="382.4" stroke="#000" stroke-width="1.55"/>
<line x1="979.44" y1="390.2" x2="987.24" y2="382.4" stroke="#000" stroke-width="1.55"/>
<line x1="983.96" y1="390.2" x2="991.76" y2="382.4" stroke="#000" stroke-width="1.55"/>
<line x1="1135.55" y1="390.2" x2="1143.35" y2="382.4" stroke="#000" stroke-width="1.55"/>
<line x1="1140.07" y1="390.2" x2="1147.88" y2="382.4" stroke="#000" stroke-width="1.55"/>
<line x1="1266.77" y1="390.2" x2="1274.58" y2="382.4" stroke="#000" stroke-width="1.55"/>
<line x1="1280.35" y1="390.2" x2="1288.15" y2="382.4" stroke="#000" stroke-width="1.55"/>
<text x="907.3" y="382.88" font-size="13" text-anchor="middle" fill="#111" textLength="25.4" lengthAdjust="spacingAndGlyphs" font-family="Liberation Sans" stroke="#111" stroke-width="0.22">3350</text>
<text x="1064.2" y="382.88" font-size="13" text-anchor="middle" fill="#111" textLength="25.4" lengthAdjust="spacingAndGlyphs" font-family="Liberation Sans" stroke="#111" stroke-width="0.22">3350</text>
<text x="1207.1" y="382.88" font-size="13" text-anchor="middle" fill="#111" textLength="25.4" lengthAdjust="spacingAndGlyphs" font-family="Liberation Sans" stroke="#111" stroke-width="0.22">2800</text>
<polyline points="985.6,386.3 973,374.5 950,374.5" stroke="#222" stroke-width="0.9" fill="none"/>
<text x="959.1" y="372.28" font-size="13" text-anchor="middle" fill="#111" textLength="19.05" lengthAdjust="spacingAndGlyphs" font-family="Liberation Sans" stroke="#111" stroke-width="0.22">100</text>
<polyline points="1141.71,386.3 1155,379.5 1175,379.5" stroke="#222" stroke-width="0.9" fill="none"/>
<text x="1164.4" y="377.18" font-size="13" text-anchor="middle" fill="#111" textLength="19.05" lengthAdjust="spacingAndGlyphs" font-family="Liberation Sans" stroke="#111" stroke-width="0.22">100</text>
<line x1="836.8" y1="434.5" x2="1288.25" y2="434.5" stroke="#222" stroke-width="1"/>
<line x1="836.9" y1="438.7" x2="844.7" y2="430.9" stroke="#000" stroke-width="1.55"/>
<line x1="882.15" y1="438.7" x2="889.95" y2="430.9" stroke="#000" stroke-width="1.55"/>
<line x1="972.65" y1="438.7" x2="980.45" y2="430.9" stroke="#000" stroke-width="1.55"/>
<line x1="1013.37" y1="438.7" x2="1021.17" y2="430.9" stroke="#000" stroke-width="1.55"/>
<line x1="1103.88" y1="438.7" x2="1111.68" y2="430.9" stroke="#000" stroke-width="1.55"/>
<line x1="1158.17" y1="438.7" x2="1165.97" y2="430.9" stroke="#000" stroke-width="1.55"/>
<line x1="1248.67" y1="438.7" x2="1256.47" y2="430.9" stroke="#000" stroke-width="1.55"/>
<line x1="1280.35" y1="438.7" x2="1288.15" y2="430.9" stroke="#000" stroke-width="1.55"/>
<line x1="886.5" y1="412.76" x2="886.5" y2="440" stroke="#222" stroke-width="0.9"/>
<line x1="976.5" y1="412.76" x2="976.5" y2="440" stroke="#222" stroke-width="0.9"/>
<line x1="1017.5" y1="412.76" x2="1017.5" y2="440" stroke="#222" stroke-width="0.9"/>
<line x1="1107.5" y1="412.76" x2="1107.5" y2="440" stroke="#222" stroke-width="0.9"/>
<line x1="1162.5" y1="412.76" x2="1162.5" y2="440" stroke="#222" stroke-width="0.9"/>
<line x1="1252.5" y1="412.76" x2="1252.5" y2="440" stroke="#222" stroke-width="0.9"/>
<text x="862" y="431.98" font-size="13" text-anchor="middle" fill="#111" textLength="25.4" lengthAdjust="spacingAndGlyphs" font-family="Liberation Sans" stroke="#111" stroke-width="0.22">1000</text>
<text x="931.1" y="431.98" font-size="13" text-anchor="middle" fill="#111" textLength="25.4" lengthAdjust="spacingAndGlyphs" font-family="Liberation Sans" stroke="#111" stroke-width="0.22">2000</text>
<text x="996.1" y="431.98" font-size="13" text-anchor="middle" fill="#111" textLength="19.05" lengthAdjust="spacingAndGlyphs" font-family="Liberation Sans" stroke="#111" stroke-width="0.22">900</text>
<text x="1063.1" y="431.98" font-size="13" text-anchor="middle" fill="#111" textLength="25.4" lengthAdjust="spacingAndGlyphs" font-family="Liberation Sans" stroke="#111" stroke-width="0.22">2000</text>
<text x="1134.2" y="431.98" font-size="13" text-anchor="middle" fill="#111" textLength="25.4" lengthAdjust="spacingAndGlyphs" font-family="Liberation Sans" stroke="#111" stroke-width="0.22">1200</text>
<text x="1207.1" y="431.98" font-size="13" text-anchor="middle" fill="#111" textLength="25.4" lengthAdjust="spacingAndGlyphs" font-family="Liberation Sans" stroke="#111" stroke-width="0.22">2000</text>
<text x="1268.4" y="431.98" font-size="13" text-anchor="middle" fill="#111" textLength="19.05" lengthAdjust="spacingAndGlyphs" font-family="Liberation Sans" stroke="#111" stroke-width="0.22">700</text>
<line x1="810.5" y1="440.5" x2="934" y2="440.5" stroke="#222" stroke-width="1"/>
<line x1="566.58" y1="661.5" x2="886.05" y2="661.5" stroke="#222" stroke-width="1"/>
<line x1="562.68" y1="665.2" x2="570.48" y2="657.4" stroke="#000" stroke-width="1.55"/>
<line x1="578.98" y1="665.2" x2="586.77" y2="657.4" stroke="#000" stroke-width="1.55"/>
<line x1="823.32" y1="665.2" x2="831.12" y2="657.4" stroke="#000" stroke-width="1.55"/>
<line x1="836.9" y1="665.2" x2="844.7" y2="657.4" stroke="#000" stroke-width="1.55"/>
<line x1="839.61" y1="665.2" x2="847.41" y2="657.4" stroke="#000" stroke-width="1.55"/>
<line x1="882.15" y1="665.2" x2="889.95" y2="657.4" stroke="#000" stroke-width="1.55"/>
<line x1="543" y1="661.5" x2="890" y2="661.5" stroke="#222" stroke-width="1"/>
<line x1="886.05" y1="666.5" x2="934" y2="666.5" stroke="#222" stroke-width="1"/>
<line x1="886.5" y1="656" x2="886.5" y2="695" stroke="#222" stroke-width="0.9"/>
<text x="552.7" y="658.38" font-size="13" text-anchor="middle" fill="#111" textLength="19.05" lengthAdjust="spacingAndGlyphs" font-family="Liberation Sans" stroke="#111" stroke-width="0.22">300</text>
<text x="704.7" y="658.38" font-size="13" text-anchor="middle" fill="#111" textLength="25.4" lengthAdjust="spacingAndGlyphs" font-family="Liberation Sans" stroke="#111" stroke-width="0.22">5400</text>
<text x="864.9" y="658.38" font-size="13" text-anchor="middle" fill="#111" textLength="19.05" lengthAdjust="spacingAndGlyphs" font-family="Liberation Sans" stroke="#111" stroke-width="0.22">940</text>
<polyline points="834.01,661.3 819,650.5 797,650.5" stroke="#222" stroke-width="0.9" fill="none"/>
<text x="806.6" y="647.38" font-size="13" text-anchor="middle" fill="#111" textLength="19.05" lengthAdjust="spacingAndGlyphs" font-family="Liberation Sans" stroke="#111" stroke-width="0.22">300</text>
<line x1="566.58" y1="726.5" x2="580.1" y2="726.5" stroke="#222" stroke-width="1"/>
<line x1="562.68" y1="730.3" x2="570.48" y2="722.5" stroke="#000" stroke-width="1.55"/>
<line x1="576.2" y1="730.3" x2="584" y2="722.5" stroke="#000" stroke-width="1.55"/>
<line x1="543" y1="726.5" x2="585" y2="726.5" stroke="#222" stroke-width="1"/>
<text x="552.7" y="723.48" font-size="13" text-anchor="middle" fill="#111" textLength="19.05" lengthAdjust="spacingAndGlyphs" font-family="Liberation Sans" stroke="#111" stroke-width="0.22">300</text>
<line x1="566.58" y1="751.5" x2="580.1" y2="751.5" stroke="#222" stroke-width="1"/>
<line x1="562.68" y1="755.2" x2="570.48" y2="747.4" stroke="#000" stroke-width="1.55"/>
<line x1="565.4" y1="755.2" x2="573.2" y2="747.4" stroke="#000" stroke-width="1.55"/>
<line x1="576.2" y1="755.2" x2="584" y2="747.4" stroke="#000" stroke-width="1.55"/>
<line x1="543" y1="751.5" x2="604" y2="751.5" stroke="#222" stroke-width="1"/>
<text x="556" y="748.38" font-size="13" text-anchor="middle" fill="#111" textLength="12.7" lengthAdjust="spacingAndGlyphs" font-family="Liberation Sans" stroke="#111" stroke-width="0.22">60</text>
<text x="592.6" y="748.38" font-size="13" text-anchor="middle" fill="#111" textLength="19.05" lengthAdjust="spacingAndGlyphs" font-family="Liberation Sans" stroke="#111" stroke-width="0.22">240</text>
<line x1="565.3" y1="770.5" x2="983.26" y2="770.5" stroke="#222" stroke-width="1"/>
<line x1="565.4" y1="774.2" x2="573.2" y2="766.4" stroke="#000" stroke-width="1.55"/>
<line x1="600.24" y1="774.2" x2="608.04" y2="766.4" stroke="#000" stroke-width="1.55"/>
<line x1="659.07" y1="774.2" x2="666.87" y2="766.4" stroke="#000" stroke-width="1.55"/>
<line x1="743.23" y1="774.2" x2="751.03" y2="766.4" stroke="#000" stroke-width="1.55"/>
<line x1="802.06" y1="774.2" x2="809.86" y2="766.4" stroke="#000" stroke-width="1.55"/>
<line x1="836.9" y1="774.2" x2="844.7" y2="766.4" stroke="#000" stroke-width="1.55"/>
<line x1="868.57" y1="774.2" x2="876.37" y2="766.4" stroke="#000" stroke-width="1.55"/>
<line x1="882.15" y1="774.2" x2="889.95" y2="766.4" stroke="#000" stroke-width="1.55"/>
<line x1="964.05" y1="774.2" x2="971.85" y2="766.4" stroke="#000" stroke-width="1.55"/>
<line x1="975.36" y1="774.2" x2="983.16" y2="766.4" stroke="#000" stroke-width="1.55"/>
<line x1="604.5" y1="711.41" x2="604.5" y2="775" stroke="#222" stroke-width="0.9"/>
<line x1="662.5" y1="711.41" x2="662.5" y2="775" stroke="#222" stroke-width="0.9"/>
<line x1="747.5" y1="711.41" x2="747.5" y2="775" stroke="#222" stroke-width="0.9"/>
<line x1="805.5" y1="711.41" x2="805.5" y2="775" stroke="#222" stroke-width="0.9"/>
<line x1="872.5" y1="739" x2="872.5" y2="775" stroke="#222" stroke-width="0.9"/>
<line x1="886.5" y1="739" x2="886.5" y2="775" stroke="#222" stroke-width="0.9"/>
<line x1="967.5" y1="739" x2="967.5" y2="775" stroke="#222" stroke-width="0.9"/>
<line x1="979.5" y1="739" x2="979.5" y2="775" stroke="#222" stroke-width="0.9"/>
<text x="586.6" y="767.68" font-size="13" text-anchor="middle" fill="#111" textLength="19.05" lengthAdjust="spacingAndGlyphs" font-family="Liberation Sans" stroke="#111" stroke-width="0.22">770</text>
<text x="633.2" y="767.68" font-size="13" text-anchor="middle" fill="#111" textLength="25.4" lengthAdjust="spacingAndGlyphs" font-family="Liberation Sans" stroke="#111" stroke-width="0.22">1300</text>
<text x="704.7" y="767.68" font-size="13" text-anchor="middle" fill="#111" textLength="25.4" lengthAdjust="spacingAndGlyphs" font-family="Liberation Sans" stroke="#111" stroke-width="0.22">1860</text>
<text x="776.2" y="767.68" font-size="13" text-anchor="middle" fill="#111" textLength="25.4" lengthAdjust="spacingAndGlyphs" font-family="Liberation Sans" stroke="#111" stroke-width="0.22">1300</text>
<text x="818.8" y="767.68" font-size="13" text-anchor="middle" fill="#111" textLength="19.05" lengthAdjust="spacingAndGlyphs" font-family="Liberation Sans" stroke="#111" stroke-width="0.22">770</text>
<text x="857" y="767.68" font-size="13" text-anchor="middle" fill="#111" textLength="19.05" lengthAdjust="spacingAndGlyphs" font-family="Liberation Sans" stroke="#111" stroke-width="0.22">700</text>
<text x="879.1" y="767.68" font-size="13" text-anchor="middle" fill="#111" textLength="19.05" lengthAdjust="spacingAndGlyphs" font-family="Liberation Sans" stroke="#111" stroke-width="0.22">300</text>
<text x="927.3" y="767.68" font-size="13" text-anchor="middle" fill="#111" textLength="25.4" lengthAdjust="spacingAndGlyphs" font-family="Liberation Sans" stroke="#111" stroke-width="0.22">1810</text>
<text x="973" y="767.68" font-size="13" text-anchor="middle" fill="#111" textLength="19.05" lengthAdjust="spacingAndGlyphs" font-family="Liberation Sans" stroke="#111" stroke-width="0.22">250</text>
<line x1="565.3" y1="807.5" x2="1288.25" y2="807.5" stroke="#222" stroke-width="1"/>
<line x1="565.4" y1="811.4" x2="573.2" y2="803.6" stroke="#000" stroke-width="1.55"/>
<line x1="836.9" y1="811.4" x2="844.7" y2="803.6" stroke="#000" stroke-width="1.55"/>
<line x1="1280.35" y1="811.4" x2="1288.15" y2="803.6" stroke="#000" stroke-width="1.55"/>
<text x="704.7" y="804.28" font-size="13" text-anchor="middle" fill="#111" textLength="25.4" lengthAdjust="spacingAndGlyphs" font-family="Liberation Sans" stroke="#111" stroke-width="0.22">6000</text>
<text x="1062.8" y="803.98" font-size="13" text-anchor="middle" fill="#111" textLength="25.4" lengthAdjust="spacingAndGlyphs" font-family="Liberation Sans" stroke="#111" stroke-width="0.22">9800</text>
<line x1="565.3" y1="830.5" x2="1288.25" y2="830.5" stroke="#222" stroke-width="1"/>
<line x1="565.4" y1="833.9" x2="573.2" y2="826.1" stroke="#000" stroke-width="1.55"/>
<line x1="1280.35" y1="833.9" x2="1288.15" y2="826.1" stroke="#000" stroke-width="1.55"/>
<text x="927" y="826.38" font-size="13" text-anchor="middle" fill="#111" textLength="31.75" lengthAdjust="spacingAndGlyphs" font-family="Liberation Sans" stroke="#111" stroke-width="0.22">15800</text>
<line x1="464.5" y1="88.5" x2="464.5" y2="711.9" stroke="#222" stroke-width="1"/>
<line x1="460.7" y1="88.6" x2="468.5" y2="96.4" stroke="#000" stroke-width="1.55"/>
<line x1="460.7" y1="704" x2="468.5" y2="711.8" stroke="#000" stroke-width="1.55"/>
<text transform="translate(456.2,386) rotate(-90)" x="0" y="4.68" font-size="13" text-anchor="middle" fill="#111" textLength="31.75" lengthAdjust="spacingAndGlyphs" font-family="Liberation Sans" stroke="#111" stroke-width="0.22">13600</text>
<line x1="487.5" y1="88.5" x2="487.5" y2="711.9" stroke="#222" stroke-width="1"/>
<line x1="483.1" y1="88.6" x2="490.9" y2="96.4" stroke="#000" stroke-width="1.55"/>
<line x1="483.1" y1="190.41" x2="490.9" y2="198.21" stroke="#000" stroke-width="1.55"/>
<line x1="483.1" y1="235.66" x2="490.9" y2="243.46" stroke="#000" stroke-width="1.55"/>
<line x1="483.1" y1="326.16" x2="490.9" y2="333.96" stroke="#000" stroke-width="1.55"/>
<line x1="483.1" y1="405.35" x2="490.9" y2="413.15" stroke="#000" stroke-width="1.55"/>
<line x1="483.1" y1="704" x2="490.9" y2="711.8" stroke="#000" stroke-width="1.55"/>
<text transform="translate(479.5,143.1) rotate(-90)" x="0" y="4.68" font-size="13" text-anchor="middle" fill="#111" textLength="25.4" lengthAdjust="spacingAndGlyphs" font-family="Liberation Sans" stroke="#111" stroke-width="0.22">2250</text>
<text transform="translate(479.5,216.3) rotate(-90)" x="0" y="4.68" font-size="13" text-anchor="middle" fill="#111" textLength="25.4" lengthAdjust="spacingAndGlyphs" font-family="Liberation Sans" stroke="#111" stroke-width="0.22">1000</text>
<text transform="translate(479.5,284.4) rotate(-90)" x="0" y="4.68" font-size="13" text-anchor="middle" fill="#111" textLength="25.4" lengthAdjust="spacingAndGlyphs" font-family="Liberation Sans" stroke="#111" stroke-width="0.22">2000</text>
<text transform="translate(479.5,370) rotate(-90)" x="0" y="4.68" font-size="13" text-anchor="middle" fill="#111" textLength="25.4" lengthAdjust="spacingAndGlyphs" font-family="Liberation Sans" stroke="#111" stroke-width="0.22">1750</text>
<text transform="translate(479.5,558.9) rotate(-90)" x="0" y="4.68" font-size="13" text-anchor="middle" fill="#111" textLength="25.4" lengthAdjust="spacingAndGlyphs" font-family="Liberation Sans" stroke="#111" stroke-width="0.22">6600</text>
<line x1="508.5" y1="88.5" x2="508.5" y2="742.1" stroke="#222" stroke-width="1"/>
<line x1="504.9" y1="88.6" x2="512.7" y2="96.4" stroke="#000" stroke-width="1.55"/>
<line x1="504.9" y1="147.9" x2="512.7" y2="155.7" stroke="#000" stroke-width="1.55"/>
<line x1="504.9" y1="215.4" x2="512.7" y2="223.2" stroke="#000" stroke-width="1.55"/>
<line x1="504.9" y1="246.2" x2="512.7" y2="254" stroke="#000" stroke-width="1.55"/>
<line x1="504.9" y1="291.3" x2="512.7" y2="299.1" stroke="#000" stroke-width="1.55"/>
<line x1="504.9" y1="394.3" x2="512.7" y2="402.1" stroke="#000" stroke-width="1.55"/>
<line x1="504.9" y1="407.7" x2="512.7" y2="415.5" stroke="#000" stroke-width="1.55"/>
<line x1="504.9" y1="449.2" x2="512.7" y2="457" stroke="#000" stroke-width="1.55"/>
<line x1="504.9" y1="575.6" x2="512.7" y2="583.4" stroke="#000" stroke-width="1.55"/>
<line x1="504.9" y1="704.2" x2="512.7" y2="712" stroke="#000" stroke-width="1.55"/>
<line x1="504.9" y1="706.6" x2="512.7" y2="714.4" stroke="#000" stroke-width="1.55"/>
<line x1="504.9" y1="734.2" x2="512.7" y2="742" stroke="#000" stroke-width="1.55"/>
<line x1="505" y1="151.5" x2="567" y2="151.5" stroke="#222" stroke-width="0.9"/>
<line x1="505" y1="219.5" x2="567" y2="219.5" stroke="#222" stroke-width="0.9"/>
<line x1="505" y1="250.5" x2="567" y2="250.5" stroke="#222" stroke-width="0.9"/>
<line x1="505" y1="295.5" x2="567" y2="295.5" stroke="#222" stroke-width="0.9"/>
<line x1="505" y1="453.5" x2="567" y2="453.5" stroke="#222" stroke-width="0.9"/>
<line x1="505" y1="579.5" x2="567" y2="579.5" stroke="#222" stroke-width="0.9"/>
<line x1="505" y1="738.5" x2="567" y2="738.5" stroke="#222" stroke-width="0.9"/>
<text transform="translate(502.3,121.5) rotate(-90)" x="0" y="4.68" font-size="13" text-anchor="middle" fill="#111" textLength="25.4" lengthAdjust="spacingAndGlyphs" font-family="Liberation Sans" stroke="#111" stroke-width="0.22">1300</text>
<text transform="translate(502.3,184.7) rotate(-90)" x="0" y="4.68" font-size="13" text-anchor="middle" fill="#111" textLength="25.4" lengthAdjust="spacingAndGlyphs" font-family="Liberation Sans" stroke="#111" stroke-width="0.22">1500</text>
<text transform="translate(502.3,234.6) rotate(-90)" x="0" y="4.68" font-size="13" text-anchor="middle" fill="#111" textLength="19.05" lengthAdjust="spacingAndGlyphs" font-family="Liberation Sans" stroke="#111" stroke-width="0.22">670</text>
<text transform="translate(502.3,272.1) rotate(-90)" x="0" y="4.68" font-size="13" text-anchor="middle" fill="#111" textLength="25.4" lengthAdjust="spacingAndGlyphs" font-family="Liberation Sans" stroke="#111" stroke-width="0.22">1000</text>
<text transform="translate(502.3,346) rotate(-90)" x="0" y="4.68" font-size="13" text-anchor="middle" fill="#111" textLength="25.4" lengthAdjust="spacingAndGlyphs" font-family="Liberation Sans" stroke="#111" stroke-width="0.22">2290</text>
<text transform="translate(502.3,404.2) rotate(-90)" x="0" y="4.68" font-size="13" text-anchor="middle" fill="#111" textLength="19.05" lengthAdjust="spacingAndGlyphs" font-family="Liberation Sans" stroke="#111" stroke-width="0.22">300</text>
<text transform="translate(502.3,429.8) rotate(-90)" x="0" y="4.68" font-size="13" text-anchor="middle" fill="#111" textLength="19.05" lengthAdjust="spacingAndGlyphs" font-family="Liberation Sans" stroke="#111" stroke-width="0.22">900</text>
<text transform="translate(502.3,516.3) rotate(-90)" x="0" y="4.68" font-size="13" text-anchor="middle" fill="#111" textLength="25.4" lengthAdjust="spacingAndGlyphs" font-family="Liberation Sans" stroke="#111" stroke-width="0.22">2800</text>
<text transform="translate(502.3,643.4) rotate(-90)" x="0" y="4.68" font-size="13" text-anchor="middle" fill="#111" textLength="25.4" lengthAdjust="spacingAndGlyphs" font-family="Liberation Sans" stroke="#111" stroke-width="0.22">2840</text>
<text transform="translate(502.3,724.1) rotate(-90)" x="0" y="4.68" font-size="13" text-anchor="middle" fill="#111" textLength="19.05" lengthAdjust="spacingAndGlyphs" font-family="Liberation Sans" stroke="#111" stroke-width="0.22">600</text>
<polyline points="508.8,706 502,699 502,684" stroke="#222" stroke-width="0.9" fill="none"/>
<text transform="translate(492.8,691.6) rotate(-90)" x="0" y="4.68" font-size="13" text-anchor="middle" fill="#111" textLength="12.5" lengthAdjust="spacingAndGlyphs" font-family="Liberation Sans" stroke="#111" stroke-width="0.22">60</text>
<line x1="530.5" y1="86.6" x2="530.5" y2="107.3" stroke="#222" stroke-width="1"/>
<line x1="526.4" y1="85.7" x2="534.2" y2="93.5" stroke="#000" stroke-width="1.55"/>
<line x1="526.4" y1="100.4" x2="534.2" y2="108.2" stroke="#000" stroke-width="1.55"/>
<line x1="505" y1="91.5" x2="540" y2="91.5" stroke="#222" stroke-width="0.9"/>
<line x1="526" y1="104.5" x2="540" y2="104.5" stroke="#222" stroke-width="0.9"/>
<text transform="translate(523.4,96.5) rotate(-90)" x="0" y="4.68" font-size="13" text-anchor="middle" fill="#111" textLength="19.05" lengthAdjust="spacingAndGlyphs" font-family="Liberation Sans" stroke="#111" stroke-width="0.22">300</text>
<line x1="505" y1="398.5" x2="540" y2="398.5" stroke="#222" stroke-width="0.9"/>
<line x1="505" y1="411.5" x2="540" y2="411.5" stroke="#222" stroke-width="0.9"/>
<line x1="535.4" y1="386.5" x2="570.58" y2="386.5" stroke="#222" stroke-width="1"/>
<line x1="535.5" y1="390.6" x2="543.3" y2="382.8" stroke="#000" stroke-width="1.55"/>
<line x1="562.68" y1="390.6" x2="570.48" y2="382.8" stroke="#000" stroke-width="1.55"/>
<line x1="539.5" y1="380" x2="539.5" y2="398" stroke="#222" stroke-width="0.9"/>
<text x="552.7" y="382.98" font-size="13" text-anchor="middle" fill="#111" textLength="19.05" lengthAdjust="spacingAndGlyphs" font-family="Liberation Sans" stroke="#111" stroke-width="0.22">600</text>
<line x1="601.5" y1="92" x2="601.5" y2="710.8" stroke="#222" stroke-width="1"/>
<line x1="597.1" y1="88.1" x2="604.9" y2="95.9" stroke="#000" stroke-width="1.55"/>
<line x1="597.1" y1="102.8" x2="604.9" y2="110.6" stroke="#000" stroke-width="1.55"/>
<line x1="597.1" y1="229.5" x2="604.9" y2="237.3" stroke="#000" stroke-width="1.55"/>
<line x1="597.1" y1="242.6" x2="604.9" y2="250.4" stroke="#000" stroke-width="1.55"/>
<line x1="597.1" y1="319.5" x2="604.9" y2="327.3" stroke="#000" stroke-width="1.55"/>
<line x1="597.1" y1="331.9" x2="604.9" y2="339.7" stroke="#000" stroke-width="1.55"/>
<line x1="597.1" y1="691.7" x2="604.9" y2="699.5" stroke="#000" stroke-width="1.55"/>
<line x1="597.1" y1="706.9" x2="604.9" y2="714.7" stroke="#000" stroke-width="1.55"/>
<line x1="601.5" y1="700" x2="601.5" y2="734.5" stroke="#222" stroke-width="1"/>
<line x1="601.5" y1="66" x2="601.5" y2="92" stroke="#222" stroke-width="1"/>
<text transform="translate(592.6,76.6) rotate(-90)" x="0" y="4.68" font-size="13" text-anchor="middle" fill="#111" textLength="19.05" lengthAdjust="spacingAndGlyphs" font-family="Liberation Sans" stroke="#111" stroke-width="0.22">300</text>
<text transform="translate(592.6,169.7) rotate(-90)" x="0" y="4.68" font-size="13" text-anchor="middle" fill="#111" textLength="25.4" lengthAdjust="spacingAndGlyphs" font-family="Liberation Sans" stroke="#111" stroke-width="0.22">2800</text>
<text transform="translate(592.6,284.4) rotate(-90)" x="0" y="4.68" font-size="13" text-anchor="middle" fill="#111" textLength="25.4" lengthAdjust="spacingAndGlyphs" font-family="Liberation Sans" stroke="#111" stroke-width="0.22">1700</text>
<text transform="translate(592.6,515.3) rotate(-90)" x="0" y="4.68" font-size="13" text-anchor="middle" fill="#111" textLength="25.4" lengthAdjust="spacingAndGlyphs" font-family="Liberation Sans" stroke="#111" stroke-width="0.22">7900</text>
<text transform="translate(592.6,724.8) rotate(-90)" x="0" y="4.68" font-size="13" text-anchor="middle" fill="#111" textLength="19.05" lengthAdjust="spacingAndGlyphs" font-family="Liberation Sans" stroke="#111" stroke-width="0.22">300</text>
<polyline points="601,241 620,251 620,276" stroke="#222" stroke-width="0.9" fill="none"/>
<text transform="translate(614.9,261.8) rotate(-90)" x="0" y="4.68" font-size="13" text-anchor="middle" fill="#111" textLength="19.05" lengthAdjust="spacingAndGlyphs" font-family="Liberation Sans" stroke="#111" stroke-width="0.22">300</text>
<polyline points="601,330 618,340 618,366" stroke="#222" stroke-width="0.9" fill="none"/>
<text transform="translate(612.6,354.3) rotate(-90)" x="0" y="4.68" font-size="13" text-anchor="middle" fill="#111" textLength="19.05" lengthAdjust="spacingAndGlyphs" font-family="Liberation Sans" stroke="#111" stroke-width="0.22">300</text>
<line x1="674.5" y1="392.48" x2="674.5" y2="699.12" stroke="#222" stroke-width="1"/>
<line x1="670.1" y1="392.58" x2="677.9" y2="400.38" stroke="#000" stroke-width="1.55"/>
<line x1="670.1" y1="691.22" x2="677.9" y2="699.02" stroke="#000" stroke-width="1.55"/>
<text transform="translate(666.5,544.6) rotate(-90)" x="0" y="4.68" font-size="13" text-anchor="middle" fill="#111" textLength="25.4" lengthAdjust="spacingAndGlyphs" font-family="Liberation Sans" stroke="#111" stroke-width="0.22">6600</text>
<line x1="737.5" y1="244.15" x2="737.5" y2="327.07" stroke="#222" stroke-width="1"/>
<line x1="733.4" y1="243.25" x2="741.2" y2="251.05" stroke="#000" stroke-width="1.55"/>
<line x1="733.4" y1="293.03" x2="741.2" y2="300.82" stroke="#000" stroke-width="1.55"/>
<line x1="733.4" y1="320.18" x2="741.2" y2="327.97" stroke="#000" stroke-width="1.55"/>
<line x1="733" y1="296.5" x2="764" y2="296.5" stroke="#222" stroke-width="0.9"/>
<text transform="translate(730.6,274.5) rotate(-90)" x="0" y="4.68" font-size="13" text-anchor="middle" fill="#111" textLength="25.4" lengthAdjust="spacingAndGlyphs" font-family="Liberation Sans" stroke="#111" stroke-width="0.22">1100</text>
<text transform="translate(730.6,309.4) rotate(-90)" x="0" y="4.68" font-size="13" text-anchor="middle" fill="#111" textLength="19.05" lengthAdjust="spacingAndGlyphs" font-family="Liberation Sans" stroke="#111" stroke-width="0.22">600</text>
<line x1="784.5" y1="293.93" x2="784.5" y2="698.12" stroke="#222" stroke-width="1"/>
<line x1="780.6" y1="293.03" x2="788.4" y2="300.82" stroke="#000" stroke-width="1.55"/>
<line x1="780.6" y1="360.9" x2="788.4" y2="368.7" stroke="#000" stroke-width="1.55"/>
<line x1="780.6" y1="691.22" x2="788.4" y2="699.02" stroke="#000" stroke-width="1.55"/>
<line x1="768" y1="364.5" x2="787" y2="364.5" stroke="#222" stroke-width="0.9"/>
<line x1="768" y1="296.5" x2="787" y2="296.5" stroke="#222" stroke-width="0.9"/>
<text transform="translate(776.5,329.4) rotate(-90)" x="0" y="4.68" font-size="13" text-anchor="middle" fill="#111" textLength="25.4" lengthAdjust="spacingAndGlyphs" font-family="Liberation Sans" stroke="#111" stroke-width="0.22">1500</text>
<text transform="translate(776.5,529) rotate(-90)" x="0" y="4.68" font-size="13" text-anchor="middle" fill="#111" textLength="25.4" lengthAdjust="spacingAndGlyphs" font-family="Liberation Sans" stroke="#111" stroke-width="0.22">7300</text>
<line x1="815.5" y1="103.88" x2="815.5" y2="443.2" stroke="#222" stroke-width="1"/>
<line x1="811.4" y1="102.97" x2="819.2" y2="110.78" stroke="#000" stroke-width="1.55"/>
<line x1="811.4" y1="184.42" x2="819.2" y2="192.22" stroke="#000" stroke-width="1.55"/>
<line x1="811.4" y1="198" x2="819.2" y2="205.8" stroke="#000" stroke-width="1.55"/>
<line x1="811.4" y1="252.3" x2="819.2" y2="260.1" stroke="#000" stroke-width="1.55"/>
<line x1="811.4" y1="392.58" x2="819.2" y2="400.38" stroke="#000" stroke-width="1.55"/>
<line x1="811.4" y1="436.3" x2="819.2" y2="444.1" stroke="#000" stroke-width="1.55"/>
<line x1="812" y1="256.5" x2="828" y2="256.5" stroke="#222" stroke-width="0.9"/>
<text transform="translate(808.1,146.4) rotate(-90)" x="0" y="4.68" font-size="13" text-anchor="middle" fill="#111" textLength="25.4" lengthAdjust="spacingAndGlyphs" font-family="Liberation Sans" stroke="#111" stroke-width="0.22">1800</text>
<text transform="translate(808.1,228.6) rotate(-90)" x="0" y="4.68" font-size="13" text-anchor="middle" fill="#111" textLength="25.4" lengthAdjust="spacingAndGlyphs" font-family="Liberation Sans" stroke="#111" stroke-width="0.22">1200</text>
<text transform="translate(808.1,326) rotate(-90)" x="0" y="4.68" font-size="13" text-anchor="middle" fill="#111" textLength="25.4" lengthAdjust="spacingAndGlyphs" font-family="Liberation Sans" stroke="#111" stroke-width="0.22">3100</text>
<text transform="translate(808.1,418.2) rotate(-90)" x="0" y="4.68" font-size="13" text-anchor="middle" fill="#111" textLength="19.05" lengthAdjust="spacingAndGlyphs" font-family="Liberation Sans" stroke="#111" stroke-width="0.22">980</text>
<polyline points="815.3,195 829,205 829,232" stroke="#222" stroke-width="0.9" fill="none"/>
<text transform="translate(823.8,218.9) rotate(-90)" x="0" y="4.68" font-size="13" text-anchor="middle" fill="#111" textLength="19.05" lengthAdjust="spacingAndGlyphs" font-family="Liberation Sans" stroke="#111" stroke-width="0.22">300</text>
<line x1="929.5" y1="405.4" x2="929.5" y2="711.9" stroke="#222" stroke-width="1"/>
<line x1="925.5" y1="405.5" x2="933.3" y2="413.3" stroke="#000" stroke-width="1.55"/>
<line x1="925.5" y1="436.3" x2="933.3" y2="444.1" stroke="#000" stroke-width="1.55"/>
<line x1="925.5" y1="662.6" x2="933.3" y2="670.4" stroke="#000" stroke-width="1.55"/>
<line x1="925.5" y1="704" x2="933.3" y2="711.8" stroke="#000" stroke-width="1.55"/>
<polyline points="929.4,440.2 953.5,455 953.5,472" stroke="#222" stroke-width="0.9" fill="none"/>
<text transform="translate(946.2,462.9) rotate(-90)" x="0" y="4.68" font-size="13" text-anchor="middle" fill="#111" textLength="19.05" lengthAdjust="spacingAndGlyphs" font-family="Liberation Sans" stroke="#111" stroke-width="0.22">680</text>
<text transform="translate(920.5,552.9) rotate(-90)" x="0" y="4.68" font-size="13" text-anchor="middle" fill="#111" textLength="25.4" lengthAdjust="spacingAndGlyphs" font-family="Liberation Sans" stroke="#111" stroke-width="0.22">5000</text>
<text transform="translate(922.4,686) rotate(-90)" x="0" y="4.68" font-size="13" text-anchor="middle" fill="#111" textLength="19.05" lengthAdjust="spacingAndGlyphs" font-family="Liberation Sans" stroke="#111" stroke-width="0.22">920</text>
<line x1="1006.5" y1="308.1" x2="1006.5" y2="400.7" stroke="#222" stroke-width="1"/>
<line x1="1002.8" y1="308.2" x2="1010.6" y2="316" stroke="#000" stroke-width="1.55"/>
<line x1="1002.8" y1="344.4" x2="1010.6" y2="352.2" stroke="#000" stroke-width="1.55"/>
<line x1="1002.8" y1="392.8" x2="1010.6" y2="400.6" stroke="#000" stroke-width="1.55"/>
<line x1="987" y1="312.5" x2="1010" y2="312.5" stroke="#222" stroke-width="0.9"/>
<line x1="987" y1="348.5" x2="1010" y2="348.5" stroke="#222" stroke-width="0.9"/>
<line x1="1002.5" y1="405.4" x2="1002.5" y2="742.3" stroke="#222" stroke-width="1"/>
<line x1="998.7" y1="405.5" x2="1006.5" y2="413.3" stroke="#000" stroke-width="1.55"/>
<line x1="998.7" y1="543.8" x2="1006.5" y2="551.6" stroke="#000" stroke-width="1.55"/>
<line x1="998.7" y1="555.1" x2="1006.5" y2="562.9" stroke="#000" stroke-width="1.55"/>
<line x1="998.7" y1="723.1" x2="1006.5" y2="730.9" stroke="#000" stroke-width="1.55"/>
<line x1="998.7" y1="734.4" x2="1006.5" y2="742.2" stroke="#000" stroke-width="1.55"/>
<text transform="translate(999.2,328.7) rotate(-90)" x="0" y="4.68" font-size="13" text-anchor="middle" fill="#111" textLength="19.05" lengthAdjust="spacingAndGlyphs" font-family="Liberation Sans" stroke="#111" stroke-width="0.22">800</text>
<text transform="translate(1000.7,371.3) rotate(-90)" x="0" y="4.68" font-size="13" text-anchor="middle" fill="#111" textLength="25.4" lengthAdjust="spacingAndGlyphs" font-family="Liberation Sans" stroke="#111" stroke-width="0.22">1050</text>
<text transform="translate(994.2,478.4) rotate(-90)" x="0" y="4.68" font-size="13" text-anchor="middle" fill="#111" textLength="25.4" lengthAdjust="spacingAndGlyphs" font-family="Liberation Sans" stroke="#111" stroke-width="0.22">3060</text>
<text transform="translate(994.2,552.9) rotate(-90)" x="0" y="4.68" font-size="13" text-anchor="middle" fill="#111" textLength="19.05" lengthAdjust="spacingAndGlyphs" font-family="Liberation Sans" stroke="#111" stroke-width="0.22">250</text>
<text transform="translate(994.2,642.9) rotate(-90)" x="0" y="4.68" font-size="13" text-anchor="middle" fill="#111" textLength="25.4" lengthAdjust="spacingAndGlyphs" font-family="Liberation Sans" stroke="#111" stroke-width="0.22">3710</text>
<text transform="translate(996.3,731.7) rotate(-90)" x="0" y="4.68" font-size="13" text-anchor="middle" fill="#111" textLength="19.05" lengthAdjust="spacingAndGlyphs" font-family="Liberation Sans" stroke="#111" stroke-width="0.22">250</text>
<line x1="979" y1="547.5" x2="1007" y2="547.5" stroke="#222" stroke-width="0.9"/>
<line x1="979" y1="559.5" x2="1007" y2="559.5" stroke="#222" stroke-width="0.9"/>
<line x1="979" y1="727.5" x2="1007" y2="727.5" stroke="#222" stroke-width="0.9"/>
<line x1="979" y1="738.5" x2="1007" y2="738.5" stroke="#222" stroke-width="0.9"/>
<line x1="1087.5" y1="198.9" x2="1087.5" y2="259.2" stroke="#222" stroke-width="1"/>
<line x1="1083.1" y1="198" x2="1090.9" y2="205.8" stroke="#000" stroke-width="1.55"/>
<line x1="1083.1" y1="204.79" x2="1090.9" y2="212.59" stroke="#000" stroke-width="1.55"/>
<line x1="1083.1" y1="245.51" x2="1090.9" y2="253.31" stroke="#000" stroke-width="1.55"/>
<line x1="1083.1" y1="252.3" x2="1090.9" y2="260.1" stroke="#000" stroke-width="1.55"/>
<text transform="translate(1080.5,204) rotate(-90)" x="0" y="4.68" font-size="13" text-anchor="middle" fill="#111" textLength="19.05" lengthAdjust="spacingAndGlyphs" font-family="Liberation Sans" stroke="#111" stroke-width="0.22">150</text>
<text transform="translate(1080.5,228.5) rotate(-90)" x="0" y="4.68" font-size="13" text-anchor="middle" fill="#111" textLength="19.05" lengthAdjust="spacingAndGlyphs" font-family="Liberation Sans" stroke="#111" stroke-width="0.22">900</text>
<text transform="translate(1080.5,253.1) rotate(-90)" x="0" y="4.68" font-size="13" text-anchor="middle" fill="#111" textLength="19.05" lengthAdjust="spacingAndGlyphs" font-family="Liberation Sans" stroke="#111" stroke-width="0.22">150</text>
<line x1="1130.5" y1="256.2" x2="1130.5" y2="396.48" stroke="#222" stroke-width="1"/>
<line x1="1126.7" y1="252.3" x2="1134.5" y2="260.1" stroke="#000" stroke-width="1.55"/>
<line x1="1126.7" y1="256.82" x2="1134.5" y2="264.62" stroke="#000" stroke-width="1.55"/>
<line x1="1126.7" y1="392.58" x2="1134.5" y2="400.38" stroke="#000" stroke-width="1.55"/>
<line x1="1130.5" y1="234" x2="1130.5" y2="400" stroke="#222" stroke-width="1"/>
<text transform="translate(1124.7,243.7) rotate(-90)" x="0" y="4.68" font-size="13" text-anchor="middle" fill="#111" textLength="19.05" lengthAdjust="spacingAndGlyphs" font-family="Liberation Sans" stroke="#111" stroke-width="0.22">100</text>
<text transform="translate(1121.7,326.9) rotate(-90)" x="0" y="4.68" font-size="13" text-anchor="middle" fill="#111" textLength="25.4" lengthAdjust="spacingAndGlyphs" font-family="Liberation Sans" stroke="#111" stroke-width="0.22">3000</text>
<line x1="1162.5" y1="139.07" x2="1162.5" y2="400.48" stroke="#222" stroke-width="1"/>
<line x1="1159" y1="139.17" x2="1166.8" y2="146.97" stroke="#000" stroke-width="1.55"/>
<line x1="1159" y1="175.37" x2="1166.8" y2="183.17" stroke="#000" stroke-width="1.55"/>
<line x1="1159" y1="184.42" x2="1166.8" y2="192.22" stroke="#000" stroke-width="1.55"/>
<line x1="1159" y1="198" x2="1166.8" y2="205.8" stroke="#000" stroke-width="1.55"/>
<line x1="1159" y1="252.3" x2="1166.8" y2="260.1" stroke="#000" stroke-width="1.55"/>
<line x1="1159" y1="392.58" x2="1166.8" y2="400.38" stroke="#000" stroke-width="1.55"/>
<line x1="1148" y1="256.5" x2="1167" y2="256.5" stroke="#222" stroke-width="0.9"/>
<text transform="translate(1156.1,159.7) rotate(-90)" x="0" y="4.68" font-size="13" text-anchor="middle" fill="#111" textLength="19.05" lengthAdjust="spacingAndGlyphs" font-family="Liberation Sans" stroke="#111" stroke-width="0.22">800</text>
<text transform="translate(1154.2,326.9) rotate(-90)" x="0" y="4.68" font-size="13" text-anchor="middle" fill="#111" textLength="25.4" lengthAdjust="spacingAndGlyphs" font-family="Liberation Sans" stroke="#111" stroke-width="0.22">3100</text>
<text transform="translate(1156.1,228.5) rotate(-90)" x="0" y="4.68" font-size="13" text-anchor="middle" fill="#111" textLength="25.4" lengthAdjust="spacingAndGlyphs" font-family="Liberation Sans" stroke="#111" stroke-width="0.22">1200</text>
<polyline points="1162.9,185 1142,172 1142,150" stroke="#222" stroke-width="0.9" fill="none"/>
<text transform="translate(1135.3,159.7) rotate(-90)" x="0" y="4.68" font-size="13" text-anchor="middle" fill="#111" textLength="19.05" lengthAdjust="spacingAndGlyphs" font-family="Liberation Sans" stroke="#111" stroke-width="0.22">200</text>
<polyline points="1162.9,199 1142,205 1142,222" stroke="#222" stroke-width="0.9" fill="none"/>
<text transform="translate(1135.3,211.5) rotate(-90)" x="0" y="4.68" font-size="13" text-anchor="middle" fill="#111" textLength="19.05" lengthAdjust="spacingAndGlyphs" font-family="Liberation Sans" stroke="#111" stroke-width="0.22">300</text>
<line x1="1262.5" y1="102.88" x2="1262.5" y2="413.25" stroke="#222" stroke-width="1"/>
<line x1="1258.3" y1="102.97" x2="1266.1" y2="110.78" stroke="#000" stroke-width="1.55"/>
<line x1="1258.3" y1="184.42" x2="1266.1" y2="192.22" stroke="#000" stroke-width="1.55"/>
<line x1="1258.3" y1="198" x2="1266.1" y2="205.8" stroke="#000" stroke-width="1.55"/>
<line x1="1258.3" y1="392.58" x2="1266.1" y2="400.38" stroke="#000" stroke-width="1.55"/>
<line x1="1258.3" y1="405.35" x2="1266.1" y2="413.15" stroke="#000" stroke-width="1.55"/>
<text transform="translate(1254.4,146.5) rotate(-90)" x="0" y="4.68" font-size="13" text-anchor="middle" fill="#111" textLength="25.4" lengthAdjust="spacingAndGlyphs" font-family="Liberation Sans" stroke="#111" stroke-width="0.22">1800</text>
<text transform="translate(1254.4,298.5) rotate(-90)" x="0" y="4.68" font-size="13" text-anchor="middle" fill="#111" textLength="25.4" lengthAdjust="spacingAndGlyphs" font-family="Liberation Sans" stroke="#111" stroke-width="0.22">4300</text>
<text transform="translate(1255.2,380.8) rotate(-90)" x="0" y="4.68" font-size="13" text-anchor="middle" fill="#111" textLength="19.05" lengthAdjust="spacingAndGlyphs" font-family="Liberation Sans" stroke="#111" stroke-width="0.22">300</text>
<line x1="862.5" y1="692.12" x2="862.5" y2="714.41" stroke="#222" stroke-width="1"/>
<line x1="858.2" y1="691.22" x2="866" y2="699.02" stroke="#000" stroke-width="1.55"/>
<line x1="858.2" y1="704" x2="866" y2="711.8" stroke="#000" stroke-width="1.55"/>
<line x1="858.2" y1="707.51" x2="866" y2="715.31" stroke="#000" stroke-width="1.55"/>
<line x1="862.5" y1="668" x2="862.5" y2="726" stroke="#222" stroke-width="0.9"/>
<text transform="translate(855.8,683) rotate(-90)" x="0" y="4.68" font-size="13" text-anchor="middle" fill="#111" textLength="19.05" lengthAdjust="spacingAndGlyphs" font-family="Liberation Sans" stroke="#111" stroke-width="0.22">300</text>
<text transform="translate(857.2,719.9) rotate(-90)" x="0" y="4.68" font-size="13" text-anchor="middle" fill="#111" textLength="12.5" lengthAdjust="spacingAndGlyphs" font-family="Liberation Sans" stroke="#111" stroke-width="0.22">60</text>
<line x1="906.5" y1="692.12" x2="906.5" y2="742.1" stroke="#222" stroke-width="1"/>
<line x1="902.6" y1="691.22" x2="910.4" y2="699.02" stroke="#000" stroke-width="1.55"/>
<line x1="902.6" y1="704" x2="910.4" y2="711.8" stroke="#000" stroke-width="1.55"/>
<line x1="902.6" y1="735.2" x2="910.4" y2="743" stroke="#000" stroke-width="1.55"/>
<polyline points="906.5,697 900,691 900,672" stroke="#222" stroke-width="0.9" fill="none"/>
<text transform="translate(892.8,680.8) rotate(-90)" x="0" y="4.68" font-size="13" text-anchor="middle" fill="#111" textLength="19.05" lengthAdjust="spacingAndGlyphs" font-family="Liberation Sans" stroke="#111" stroke-width="0.22">300</text>
<text transform="translate(899.9,722.7) rotate(-90)" x="0" y="4.68" font-size="13" text-anchor="middle" fill="#111" textLength="19.05" lengthAdjust="spacingAndGlyphs" font-family="Liberation Sans" stroke="#111" stroke-width="0.22">660</text>
<line x1="886" y1="695.5" x2="910" y2="695.5" stroke="#222" stroke-width="0.9"/>
<line x1="886" y1="739.5" x2="910" y2="739.5" stroke="#222" stroke-width="0.9"/>
<circle cx="794.8" cy="101.4" r="1.9" stroke="#111" stroke-width="0" fill="#111"/>
<polyline points="794.8,101.4 794.8,137.6 793.7,137.6" stroke="#111" stroke-width="0.9" fill="none"/>
<rect x="748.2" y="137.6" width="45.5" height="18" fill="#fff" stroke="#222" stroke-width="1"/>
<text x="770.95" y="150.12" font-size="12" text-anchor="middle" fill="#111" textLength="31" lengthAdjust="spacingAndGlyphs" font-family="Liberation Sans" stroke="#111" stroke-width="0.22">+1,000</text>
<circle cx="944.5" cy="101.2" r="1.9" stroke="#111" stroke-width="0" fill="#111"/>
<polyline points="944.5,101.2 944.5,135.9 942.4,135.9" stroke="#111" stroke-width="0.9" fill="none"/>
<rect x="897.5" y="135.9" width="44.9" height="18.1" fill="#fff" stroke="#222" stroke-width="1"/>
<text x="919.95" y="148.47" font-size="12" text-anchor="middle" fill="#111" textLength="31" lengthAdjust="spacingAndGlyphs" font-family="Liberation Sans" stroke="#111" stroke-width="0.22">+1,000</text>
<circle cx="1096.3" cy="101" r="1.9" stroke="#111" stroke-width="0" fill="#111"/>
<polyline points="1096.3,101 1096.3,135.4 1095.6,135.4" stroke="#111" stroke-width="0.9" fill="none"/>
<rect x="1049.7" y="135.4" width="45.9" height="17.8" fill="#fff" stroke="#222" stroke-width="1"/>
<text x="1072.65" y="147.82" font-size="12" text-anchor="middle" fill="#111" textLength="31" lengthAdjust="spacingAndGlyphs" font-family="Liberation Sans" stroke="#111" stroke-width="0.22">+1,000</text>
<line x1="432.3" y1="572" x2="463" y2="572" stroke="#111" stroke-width="1.5"/>
<line x1="443.5" y1="594.8" x2="443.5" y2="574" stroke="#111" stroke-width="1"/>
<polyline points="441.6,580 443.7,573.5 445.8,580" stroke="#111" stroke-width="0.9" fill="#111"/>
<text x="432.3" y="594.88" font-size="13" text-anchor="middle" fill="#111" textLength="5" lengthAdjust="spacingAndGlyphs" font-family="Liberation Sans" stroke="#111" stroke-width="0.22">1</text>
<line x1="1346" y1="572" x2="1380" y2="572" stroke="#111" stroke-width="1.5"/>
<line x1="1368.5" y1="594.5" x2="1368.5" y2="574" stroke="#111" stroke-width="1"/>
<polyline points="1366.5,580 1368.6,573.5 1370.7,580" stroke="#111" stroke-width="0.9" fill="#111"/>
<text x="1378.8" y="593.48" font-size="13" text-anchor="middle" fill="#111" textLength="5" lengthAdjust="spacingAndGlyphs" font-family="Liberation Sans" stroke="#111" stroke-width="0.22">1</text>
<rect x="1016.9" y="480" width="36.7" height="27.5" fill="url(#hatch)" stroke="#aaa" stroke-width="0.9"/>
<text x="1061.2" y="488.2" font-size="15" fill="#111" textLength="193.7" lengthAdjust="spacingAndGlyphs" font-family="Liberation Sans">- Перекрытие на отм. +3,000</text>
<text x="1069.8" y="506" font-size="15" fill="#111" textLength="121.5" lengthAdjust="spacingAndGlyphs" font-family="Liberation Sans">от чистового пола</text>
<text transform="translate(38.65,41.5) scale(0.76,1)" x="0" y="0" font-size="18.8" fill="#505050" text-anchor="middle" font-family="Liberation Sans">К</text>
<text transform="translate(54.95,41.5) scale(0.76,1)" x="0" y="0" font-size="18.8" fill="#505050" text-anchor="middle" font-family="Liberation Sans">Л</text>
<text transform="translate(70.55,41.5) scale(0.76,1)" x="0" y="0" font-size="18.8" fill="#505050" text-anchor="middle" font-family="Liberation Sans">А</text>
<text transform="translate(86.2,41.5) scale(0.76,1)" x="0" y="0" font-size="18.8" fill="#505050" text-anchor="middle" font-family="Liberation Sans">Д</text>
<text transform="translate(102.1,41.5) scale(0.76,1)" x="0" y="0" font-size="18.8" fill="#505050" text-anchor="middle" font-family="Liberation Sans">О</text>
<text transform="translate(118.7,41.5) scale(0.76,1)" x="0" y="0" font-size="18.8" fill="#505050" text-anchor="middle" font-family="Liberation Sans">Ч</text>
<text transform="translate(134,41.5) scale(0.76,1)" x="0" y="0" font-size="18.8" fill="#505050" text-anchor="middle" font-family="Liberation Sans">Н</text>
<text transform="translate(149.95,41.5) scale(0.76,1)" x="0" y="0" font-size="18.8" fill="#505050" text-anchor="middle" font-family="Liberation Sans">Ы</text>
<text transform="translate(165.25,41.5) scale(0.76,1)" x="0" y="0" font-size="18.8" fill="#505050" text-anchor="middle" font-family="Liberation Sans">Й</text>
<text transform="translate(196.9,41.5) scale(0.76,1)" x="0" y="0" font-size="18.8" fill="#505050" text-anchor="middle" font-family="Liberation Sans">П</text>
<text transform="translate(212.8,41.5) scale(0.76,1)" x="0" y="0" font-size="18.8" fill="#505050" text-anchor="middle" font-family="Liberation Sans">Л</text>
<text transform="translate(228.35,41.5) scale(0.76,1)" x="0" y="0" font-size="18.8" fill="#505050" text-anchor="middle" font-family="Liberation Sans">А</text>
<text transform="translate(244.3,41.5) scale(0.76,1)" x="0" y="0" font-size="18.8" fill="#505050" text-anchor="middle" font-family="Liberation Sans">Н</text>
<text transform="translate(276.45,41.5) scale(0.76,1)" x="0" y="0" font-size="18.8" fill="#505050" text-anchor="middle" font-family="Liberation Sans">1</text>
<text transform="translate(307.6,41.5) scale(0.76,1)" x="0" y="0" font-size="18.8" fill="#505050" text-anchor="middle" font-family="Liberation Sans">Э</text>
<text transform="translate(323.1,41.5) scale(0.76,1)" x="0" y="0" font-size="18.8" fill="#505050" text-anchor="middle" font-family="Liberation Sans">Т</text>
<text transform="translate(339.05,41.5) scale(0.76,1)" x="0" y="0" font-size="18.8" fill="#505050" text-anchor="middle" font-family="Liberation Sans">А</text>
<text transform="translate(356.05,41.5) scale(0.76,1)" x="0" y="0" font-size="18.8" fill="#505050" text-anchor="middle" font-family="Liberation Sans">Ж</text>
<text transform="translate(370.45,41.5) scale(0.76,1)" x="0" y="0" font-size="18.8" fill="#505050" text-anchor="middle" font-family="Liberation Sans">А</text>
<text x="99.7" y="134.5" font-size="13.6" fill="#222" text-anchor="start" textLength="170.9" lengthAdjust="spacingAndGlyphs" font-family="Liberation Sans">Состав наружной отделки</text>
<text x="132" y="153.7" font-size="13.6" fill="#222" text-anchor="start" textLength="107" lengthAdjust="spacingAndGlyphs" font-family="Liberation Sans">под штукатурку</text>
<text x="99.7" y="590.3" font-size="13.6" fill="#222" text-anchor="start" textLength="171.2" lengthAdjust="spacingAndGlyphs" font-family="Liberation Sans">Состав наружной отделки</text>
<text x="101.5" y="610" font-size="13.6" fill="#222" text-anchor="start" textLength="167.9" lengthAdjust="spacingAndGlyphs" font-family="Liberation Sans">под керамическую плитку</text>
<polyline points="55.2,201.2 105.3,201.2 108.6,208.7 114.3,194.3 117.2,201.2 181,201.2" stroke="#555" stroke-width="1" fill="none"/>
<polyline points="55.2,404.5 110.2,404.5 113.4,397.1 118.8,411.7 121.2,404.5 181,404.5" stroke="#555" stroke-width="1" fill="none"/>
<line x1="65" y1="201.2" x2="65" y2="404.5" stroke="#222" stroke-width="1.3"/>
<line x1="65.2" y1="267.5" x2="145.4" y2="267.5" stroke="#222" stroke-width="1.2"/>
<line x1="65.2" y1="336.5" x2="145.4" y2="336.5" stroke="#222" stroke-width="1.2"/>
<line x1="145" y1="201.2" x2="145" y2="404.5" stroke="#111" stroke-width="1.6"/>
<line x1="159.5" y1="201.2" x2="159.5" y2="404.5" stroke="#222" stroke-width="1.2"/>
<polyline points="146.4,201.2 158.5,202.77 146.4,204.35 158.5,205.92 146.4,207.5 158.5,209.07 146.4,210.65 158.5,212.22 146.4,213.8 158.5,215.37 146.4,216.95 158.5,218.52 146.4,220.1 158.5,221.67 146.4,223.25 158.5,224.82 146.4,226.4 158.5,227.97 146.4,229.55 158.5,231.12 146.4,232.7 158.5,234.27 146.4,235.85 158.5,237.42 146.4,239 158.5,240.57 146.4,242.15 158.5,243.72 146.4,245.3 158.5,246.87 146.4,248.45 158.5,250.02 146.4,251.6 158.5,253.17 146.4,254.75 158.5,256.32 146.4,257.9 158.5,259.47 146.4,261.05 158.5,262.62 146.4,264.2 158.5,265.77 146.4,267.35 158.5,268.92 146.4,270.5 158.5,272.07 146.4,273.65 158.5,275.22 146.4,276.8 158.5,278.37 146.4,279.95 158.5,281.52 146.4,283.1 158.5,284.67 146.4,286.25 158.5,287.82 146.4,289.4 158.5,290.97 146.4,292.55 158.5,294.12 146.4,295.7 158.5,297.27 146.4,298.85 158.5,300.42 146.4,302 158.5,303.57 146.4,305.15 158.5,306.72 146.4,308.3 158.5,309.87 146.4,311.45 158.5,313.02 146.4,314.6 158.5,316.17 146.4,317.75 158.5,319.32 146.4,320.9 158.5,322.47 146.4,324.05 158.5,325.62 146.4,327.2 158.5,328.77 146.4,330.35 158.5,331.92 146.4,333.5 158.5,335.07 146.4,336.65 158.5,338.22 146.4,339.8 158.5,341.37 146.4,342.95 158.5,344.52 146.4,346.1 158.5,347.67 146.4,349.25 158.5,350.82 146.4,352.4 158.5,353.97 146.4,355.55 158.5,357.12 146.4,358.7 158.5,360.27 146.4,361.85 158.5,363.42 146.4,365 158.5,366.57 146.4,368.15 158.5,369.72 146.4,371.3 158.5,372.87 146.4,374.45 158.5,376.02 146.4,377.6 158.5,379.17 146.4,380.75 158.5,382.32 146.4,383.9 158.5,385.47 146.4,387.05 158.5,388.62 146.4,390.2 158.5,391.77 146.4,393.35 158.5,394.92 146.4,396.5 158.5,398.07 146.4,399.65 158.5,401.22 146.4,402.8 158.5,404.37" stroke="#6a6a6a" stroke-width="0.5" fill="none"/>
<polyline points="158.5,201.2 146.4,202.77 158.5,204.35 146.4,205.92 158.5,207.5 146.4,209.07 158.5,210.65 146.4,212.22 158.5,213.8 146.4,215.37 158.5,216.95 146.4,218.52 158.5,220.1 146.4,221.67 158.5,223.25 146.4,224.82 158.5,226.4 146.4,227.97 158.5,229.55 146.4,231.12 158.5,232.7 146.4,234.27 158.5,235.85 146.4,237.42 158.5,239 146.4,240.57 158.5,242.15 146.4,243.72 158.5,245.3 146.4,246.87 158.5,248.45 146.4,250.02 158.5,251.6 146.4,253.17 158.5,254.75 146.4,256.32 158.5,257.9 146.4,259.47 158.5,261.05 146.4,262.62 158.5,264.2 146.4,265.77 158.5,267.35 146.4,268.92 158.5,270.5 146.4,272.07 158.5,273.65 146.4,275.22 158.5,276.8 146.4,278.37 158.5,279.95 146.4,281.52 158.5,283.1 146.4,284.67 158.5,286.25 146.4,287.82 158.5,289.4 146.4,290.97 158.5,292.55 146.4,294.12 158.5,295.7 146.4,297.27 158.5,298.85 146.4,300.42 158.5,302 146.4,303.57 158.5,305.15 146.4,306.72 158.5,308.3 146.4,309.87 158.5,311.45 146.4,313.02 158.5,314.6 146.4,316.17 158.5,317.75 146.4,319.32 158.5,320.9 146.4,322.47 158.5,324.05 146.4,325.62 158.5,327.2 146.4,328.77 158.5,330.35 146.4,331.92 158.5,333.5 146.4,335.07 158.5,336.65 146.4,338.22 158.5,339.8 146.4,341.37 158.5,342.95 146.4,344.52 158.5,346.1 146.4,347.67 158.5,349.25 146.4,350.82 158.5,352.4 146.4,353.97 158.5,355.55 146.4,357.12 158.5,358.7 146.4,360.27 158.5,361.85 146.4,363.42 158.5,365 146.4,366.57 158.5,368.15 146.4,369.72 158.5,371.3 146.4,372.87 158.5,374.45 146.4,376.02 158.5,377.6 146.4,379.17 158.5,380.75 146.4,382.32 158.5,383.9 146.4,385.47 158.5,387.05 146.4,388.62 158.5,390.2 146.4,391.77 158.5,393.35 146.4,394.92 158.5,396.5 146.4,398.07 158.5,399.65 146.4,401.22 158.5,402.8 146.4,404.37" stroke="#6a6a6a" stroke-width="0.5" fill="none"/>
<rect x="159.5" y="201.2" width="2" height="203.3" fill="#fff" stroke="none" stroke-width="1"/>
<line x1="161.5" y1="201.2" x2="161.5" y2="404.5" stroke="#222" stroke-width="1"/>
<line x1="111.8" y1="249" x2="124.8" y2="249" stroke="#111" stroke-width="3"/>
<line x1="124.8" y1="248.5" x2="157.5" y2="248.5" stroke="#2d3592" stroke-width="0.7"/>
<line x1="124.8" y1="250.5" x2="157.5" y2="250.5" stroke="#2d3592" stroke-width="0.7"/>
<line x1="160.5" y1="244.4" x2="160.5" y2="254.4" stroke="#222" stroke-width="1"/>
<line x1="111.8" y1="386" x2="124.8" y2="386" stroke="#111" stroke-width="3"/>
<line x1="124.8" y1="384.5" x2="157.5" y2="384.5" stroke="#2d3592" stroke-width="0.7"/>
<line x1="124.8" y1="386.5" x2="157.5" y2="386.5" stroke="#2d3592" stroke-width="0.7"/>
<line x1="160.5" y1="380.9" x2="160.5" y2="390.9" stroke="#222" stroke-width="1"/>
<line x1="103.2" y1="353.5" x2="374.7" y2="353.5" stroke="#444" stroke-width="1"/>
<line x1="211.5" y1="260.1" x2="211.5" y2="352.9" stroke="#555" stroke-width="1"/>
<line x1="211.7" y1="260.5" x2="374.7" y2="260.5" stroke="#555" stroke-width="1"/>
<line x1="211.7" y1="275.5" x2="374.7" y2="275.5" stroke="#555" stroke-width="1"/>
<line x1="211.7" y1="292.5" x2="374.7" y2="292.5" stroke="#555" stroke-width="1"/>
<line x1="211.7" y1="322.5" x2="374.7" y2="322.5" stroke="#555" stroke-width="1"/>
<text x="214.4" y="255.6" font-size="11.4" fill="#444" text-anchor="start" textLength="142.9" lengthAdjust="spacingAndGlyphs" font-family="Liberation Sans">Газосиликатный блок D500</text>
<text x="214.4" y="271.4" font-size="11.4" fill="#444" text-anchor="start" textLength="81.3" lengthAdjust="spacingAndGlyphs" font-family="Liberation Sans">Клеевой состав</text>
<text x="214.4" y="287.9" font-size="11.4" fill="#444" text-anchor="start" textLength="96.4" lengthAdjust="spacingAndGlyphs" font-family="Liberation Sans">Минеральная вата</text>
<text x="214.4" y="304.4" font-size="11.4" fill="#444" text-anchor="start" textLength="152.9" lengthAdjust="spacingAndGlyphs" font-family="Liberation Sans">Базовый слой армированный</text>
<text x="214.4" y="318.1" font-size="11.4" fill="#444" text-anchor="start" textLength="69.8" lengthAdjust="spacingAndGlyphs" font-family="Liberation Sans">стеклосеткой</text>
<text x="214.4" y="332.8" font-size="11.4" fill="#444" text-anchor="start" textLength="123.6" lengthAdjust="spacingAndGlyphs" font-family="Liberation Sans">Декоративно-защитное</text>
<text x="214.4" y="346.5" font-size="11.4" fill="#444" text-anchor="start" textLength="50.8" lengthAdjust="spacingAndGlyphs" font-family="Liberation Sans">покрытие</text>
<polyline points="101,288 106,282 107,290 101,288" stroke="#333" stroke-width="0.8" fill="none"/>
<polyline points="117,312 124,300 125,312 117,312" stroke="#333" stroke-width="0.8" fill="none"/>
<polyline points="116,308 122,314 120,317 116,308" stroke="#333" stroke-width="0.8" fill="none"/>
<polyline points="117,386 122,380 123,388 117,386" stroke="#333" stroke-width="0.8" fill="none"/>
<rect x="70" y="215" width="1" height="1" fill="#555" stroke="none" stroke-width="1"/>
<rect x="74" y="247" width="1" height="1" fill="#555" stroke="none" stroke-width="1"/>
<rect x="88" y="265" width="1" height="1" fill="#555" stroke="none" stroke-width="1"/>
<rect x="93" y="361" width="1" height="1" fill="#555" stroke="none" stroke-width="1"/>
<rect x="106" y="357" width="1" height="1" fill="#555" stroke="none" stroke-width="1"/>
<rect x="104" y="399" width="1" height="1" fill="#555" stroke="none" stroke-width="1"/>
<rect x="115" y="249" width="1" height="1" fill="#555" stroke="none" stroke-width="1"/>
<rect x="120" y="254" width="1" height="1" fill="#555" stroke="none" stroke-width="1"/>
<rect x="142" y="210" width="1" height="1" fill="#555" stroke="none" stroke-width="1"/>
<rect x="77" y="318" width="1" height="1" fill="#555" stroke="none" stroke-width="1"/>
<rect x="84" y="300" width="1" height="1" fill="#555" stroke="none" stroke-width="1"/>
<rect x="87" y="342" width="1" height="1" fill="#555" stroke="none" stroke-width="1"/>
<rect x="112" y="349" width="1" height="1" fill="#555" stroke="none" stroke-width="1"/>
<rect x="96" y="314" width="1" height="1" fill="#555" stroke="none" stroke-width="1"/>
<rect x="137" y="227" width="1" height="1" fill="#555" stroke="none" stroke-width="1"/>
<line x1="61.7" y1="435.5" x2="175" y2="435.5" stroke="#aaa" stroke-width="0.9"/>
<line x1="65.5" y1="405" x2="65.5" y2="440" stroke="#bbb" stroke-width="0.8"/>
<line x1="62.7" y1="438.3" x2="67.7" y2="433.3" stroke="#999" stroke-width="0.8"/>
<line x1="145.5" y1="405" x2="145.5" y2="440" stroke="#bbb" stroke-width="0.8"/>
<line x1="142.9" y1="438.3" x2="147.9" y2="433.3" stroke="#999" stroke-width="0.8"/>
<line x1="159.5" y1="405" x2="159.5" y2="440" stroke="#bbb" stroke-width="0.8"/>
<line x1="157" y1="438.3" x2="162" y2="433.3" stroke="#999" stroke-width="0.8"/>
<line x1="161.5" y1="405" x2="161.5" y2="440" stroke="#bbb" stroke-width="0.8"/>
<line x1="158.9" y1="438.3" x2="163.9" y2="433.3" stroke="#999" stroke-width="0.8"/>
<text x="104.7" y="434.7" font-size="12" fill="#666" text-anchor="middle" textLength="19" lengthAdjust="spacingAndGlyphs" font-family="Liberation Sans">300</text>
<text x="152.4" y="434.7" font-size="12" fill="#666" text-anchor="middle" textLength="12.5" lengthAdjust="spacingAndGlyphs" font-family="Liberation Sans">50</text>
<text x="171" y="434.7" font-size="12" fill="#666" text-anchor="middle" textLength="11" lengthAdjust="spacingAndGlyphs" font-family="Liberation Sans">10</text>
<polyline points="55.6,654.4 101.6,654.4 104.2,660.5 108.6,648 111.6,654.4 167.9,654.4" stroke="#555" stroke-width="1" fill="none"/>
<polyline points="55.6,832.1 106.7,832.1 109.8,824.5 114.2,839 117.3,832.1 167.9,832.1" stroke="#555" stroke-width="1" fill="none"/>
<line x1="66" y1="654.4" x2="66" y2="832.1" stroke="#222" stroke-width="1.3"/>
<line x1="65.6" y1="713.5" x2="136.8" y2="713.5" stroke="#222" stroke-width="1.2"/>
<line x1="65.6" y1="774.5" x2="136.8" y2="774.5" stroke="#222" stroke-width="1.2"/>
<line x1="137" y1="654.4" x2="137" y2="832.1" stroke="#111" stroke-width="1.6"/>
<line x1="159.5" y1="654.4" x2="159.5" y2="832.1" stroke="#222" stroke-width="1.2"/>
<polyline points="137.8,654.4 158.8,657.25 137.8,660.1 158.8,662.95 137.8,665.8 158.8,668.65 137.8,671.5 158.8,674.35 137.8,677.2 158.8,680.05 137.8,682.9 158.8,685.75 137.8,688.6 158.8,691.45 137.8,694.3 158.8,697.15 137.8,700 158.8,702.85 137.8,705.7 158.8,708.55 137.8,711.4 158.8,714.25 137.8,717.1 158.8,719.95 137.8,722.8 158.8,725.65 137.8,728.5 158.8,731.35 137.8,734.2 158.8,737.05 137.8,739.9 158.8,742.75 137.8,745.6 158.8,748.45 137.8,751.3 158.8,754.15 137.8,757 158.8,759.85 137.8,762.7 158.8,765.55 137.8,768.4 158.8,771.25 137.8,774.1 158.8,776.95 137.8,779.8 158.8,782.65 137.8,785.5 158.8,788.35 137.8,791.2 158.8,794.05 137.8,796.9 158.8,799.75 137.8,802.6 158.8,805.45 137.8,808.3 158.8,811.15 137.8,814 158.8,816.85 137.8,819.7 158.8,822.55 137.8,825.4 158.8,828.25 137.8,831.1" stroke="#444" stroke-width="0.7" fill="none"/>
<polyline points="137.8,654.4 158.8,662.95 137.8,671.5 158.8,680.05 137.8,688.6 158.8,697.15 137.8,705.7 158.8,714.25 137.8,722.8 158.8,731.35 137.8,739.9 158.8,748.45 137.8,757 158.8,765.55 137.8,774.1 158.8,782.65 137.8,791.2 158.8,799.75 137.8,808.3 158.8,816.85 137.8,825.4" stroke="#666" stroke-width="0.6" fill="none"/>
<rect x="159.3" y="654.4" width="3.5" height="177.7" fill="#999" stroke="none" stroke-width="1"/>
<line x1="162.5" y1="654.4" x2="162.5" y2="832.1" stroke="#222" stroke-width="1"/>
<line x1="118" y1="696" x2="129.5" y2="696" stroke="#111" stroke-width="3"/>
<line x1="129.5" y1="695.5" x2="157.3" y2="695.5" stroke="#2d3592" stroke-width="0.7"/>
<line x1="129.5" y1="697.5" x2="157.3" y2="697.5" stroke="#2d3592" stroke-width="0.7"/>
<line x1="159.5" y1="691.5" x2="159.5" y2="701.5" stroke="#222" stroke-width="1"/>
<line x1="118" y1="816" x2="129.5" y2="816" stroke="#111" stroke-width="3"/>
<line x1="129.5" y1="815.5" x2="157.3" y2="815.5" stroke="#2d3592" stroke-width="0.7"/>
<line x1="129.5" y1="817.5" x2="157.3" y2="817.5" stroke="#2d3592" stroke-width="0.7"/>
<line x1="159.5" y1="811" x2="159.5" y2="821" stroke="#222" stroke-width="1"/>
<line x1="90" y1="787.5" x2="329.4" y2="787.5" stroke="#444" stroke-width="1"/>
<line x1="186.5" y1="700" x2="186.5" y2="787.9" stroke="#555" stroke-width="1"/>
<line x1="186.4" y1="700.5" x2="329.4" y2="700.5" stroke="#555" stroke-width="1"/>
<line x1="186.4" y1="714.5" x2="329.4" y2="714.5" stroke="#555" stroke-width="1"/>
<line x1="186.4" y1="729.5" x2="329.4" y2="729.5" stroke="#555" stroke-width="1"/>
<line x1="186.4" y1="744.5" x2="329.4" y2="744.5" stroke="#555" stroke-width="1"/>
<line x1="186.4" y1="773.5" x2="329.4" y2="773.5" stroke="#555" stroke-width="1"/>
<text x="188.5" y="697" font-size="10.2" fill="#444" text-anchor="start" textLength="125" lengthAdjust="spacingAndGlyphs" font-family="Liberation Sans">Газосиликатный блок D500</text>
<text x="188.5" y="710.6" font-size="10.2" fill="#444" text-anchor="start" textLength="71.5" lengthAdjust="spacingAndGlyphs" font-family="Liberation Sans">Клеевой состав</text>
<text x="188.5" y="725.2" font-size="10.2" fill="#444" text-anchor="start" textLength="84.5" lengthAdjust="spacingAndGlyphs" font-family="Liberation Sans">Минеральная вата</text>
<text x="188.5" y="739.7" font-size="10.2" fill="#444" text-anchor="start" textLength="139.4" lengthAdjust="spacingAndGlyphs" font-family="Liberation Sans">Усиленная армирующая сетка</text>
<text x="188.5" y="754.5" font-size="10.2" fill="#444" text-anchor="start" textLength="92.5" lengthAdjust="spacingAndGlyphs" font-family="Liberation Sans">Клеевой состав для</text>
<text x="188.5" y="766.7" font-size="10.2" fill="#444" text-anchor="start" textLength="101.5" lengthAdjust="spacingAndGlyphs" font-family="Liberation Sans">керамической плитки</text>
<text x="188.5" y="784.2" font-size="10.2" fill="#444" text-anchor="start" textLength="94" lengthAdjust="spacingAndGlyphs" font-family="Liberation Sans">Клинкерная плитка</text>
<polyline points="120,724 124,717 126,724 120,724" stroke="#333" stroke-width="0.8" fill="none"/>
<polyline points="104,768 111,763 111,770 104,768" stroke="#333" stroke-width="0.8" fill="none"/>
<polyline points="72,811 81,804 82,814 72,811" stroke="#333" stroke-width="0.8" fill="none"/>
<rect x="90" y="680" width="1" height="1" fill="#555" stroke="none" stroke-width="1"/>
<rect x="102" y="689" width="1" height="1" fill="#555" stroke="none" stroke-width="1"/>
<rect x="114" y="707" width="1" height="1" fill="#555" stroke="none" stroke-width="1"/>
<rect x="116" y="741" width="1" height="1" fill="#555" stroke="none" stroke-width="1"/>
<rect x="84" y="791" width="1" height="1" fill="#555" stroke="none" stroke-width="1"/>
<rect x="104" y="797" width="1" height="1" fill="#555" stroke="none" stroke-width="1"/>
<rect x="116" y="783" width="1" height="1" fill="#555" stroke="none" stroke-width="1"/>
<rect x="92" y="825" width="1" height="1" fill="#555" stroke="none" stroke-width="1"/>
<line x1="62" y1="860.5" x2="175" y2="860.5" stroke="#aaa" stroke-width="0.9"/>
<line x1="65.5" y1="832" x2="65.5" y2="864" stroke="#bbb" stroke-width="0.8"/>
<line x1="63.1" y1="862.5" x2="68.1" y2="857.5" stroke="#999" stroke-width="0.8"/>
<line x1="136.5" y1="832" x2="136.5" y2="864" stroke="#bbb" stroke-width="0.8"/>
<line x1="134.3" y1="862.5" x2="139.3" y2="857.5" stroke="#999" stroke-width="0.8"/>
<line x1="159.5" y1="832" x2="159.5" y2="864" stroke="#bbb" stroke-width="0.8"/>
<line x1="156.8" y1="862.5" x2="161.8" y2="857.5" stroke="#999" stroke-width="0.8"/>
<line x1="162.5" y1="832" x2="162.5" y2="864" stroke="#bbb" stroke-width="0.8"/>
<line x1="160.3" y1="862.5" x2="165.3" y2="857.5" stroke="#999" stroke-width="0.8"/>
<text x="100.6" y="859.5" font-size="12" fill="#666" text-anchor="middle" textLength="19" lengthAdjust="spacingAndGlyphs" font-family="Liberation Sans">300</text>
<text x="147.6" y="859.5" font-size="12" fill="#666" text-anchor="middle" textLength="12.5" lengthAdjust="spacingAndGlyphs" font-family="Liberation Sans">50</text>
<text x="171.8" y="859.5" font-size="12" fill="#666" text-anchor="middle" textLength="11" lengthAdjust="spacingAndGlyphs" font-family="Liberation Sans">10</text>
<text transform="translate(788.8,921.9) scale(0.74,1)" x="0" y="0" font-size="14.2" fill="#1a1a1a" stroke="#1a1a1a" stroke-width="0.25" text-anchor="middle" font-family="Liberation Sans">У</text>
<text transform="translate(800.6,921.9) scale(0.74,1)" x="0" y="0" font-size="14.2" fill="#1a1a1a" stroke="#1a1a1a" stroke-width="0.25" text-anchor="middle" font-family="Liberation Sans">С</text>
<text transform="translate(812.4,921.9) scale(0.74,1)" x="0" y="0" font-size="14.2" fill="#1a1a1a" stroke="#1a1a1a" stroke-width="0.25" text-anchor="middle" font-family="Liberation Sans">Л</text>
<text transform="translate(824.2,921.9) scale(0.74,1)" x="0" y="0" font-size="14.2" fill="#1a1a1a" stroke="#1a1a1a" stroke-width="0.25" text-anchor="middle" font-family="Liberation Sans">О</text>
<text transform="translate(836,921.9) scale(0.74,1)" x="0" y="0" font-size="14.2" fill="#1a1a1a" stroke="#1a1a1a" stroke-width="0.25" text-anchor="middle" font-family="Liberation Sans">В</text>
<text transform="translate(847.8,921.9) scale(0.74,1)" x="0" y="0" font-size="14.2" fill="#1a1a1a" stroke="#1a1a1a" stroke-width="0.25" text-anchor="middle" font-family="Liberation Sans">Н</text>
<text transform="translate(859.6,921.9) scale(0.74,1)" x="0" y="0" font-size="14.2" fill="#1a1a1a" stroke="#1a1a1a" stroke-width="0.25" text-anchor="middle" font-family="Liberation Sans">Ы</text>
<text transform="translate(871.4,921.9) scale(0.74,1)" x="0" y="0" font-size="14.2" fill="#1a1a1a" stroke="#1a1a1a" stroke-width="0.25" text-anchor="middle" font-family="Liberation Sans">Е</text>
<text transform="translate(894.5,921.9) scale(0.74,1)" x="0" y="0" font-size="14.2" fill="#1a1a1a" stroke="#1a1a1a" stroke-width="0.25" text-anchor="middle" font-family="Liberation Sans">О</text>
<text transform="translate(906.2,921.9) scale(0.74,1)" x="0" y="0" font-size="14.2" fill="#1a1a1a" stroke="#1a1a1a" stroke-width="0.25" text-anchor="middle" font-family="Liberation Sans">Б</text>
<text transform="translate(917.9,921.9) scale(0.74,1)" x="0" y="0" font-size="14.2" fill="#1a1a1a" stroke="#1a1a1a" stroke-width="0.25" text-anchor="middle" font-family="Liberation Sans">О</text>
<text transform="translate(929.6,921.9) scale(0.74,1)" x="0" y="0" font-size="14.2" fill="#1a1a1a" stroke="#1a1a1a" stroke-width="0.25" text-anchor="middle" font-family="Liberation Sans">З</text>
<text transform="translate(941.3,921.9) scale(0.74,1)" x="0" y="0" font-size="14.2" fill="#1a1a1a" stroke="#1a1a1a" stroke-width="0.25" text-anchor="middle" font-family="Liberation Sans">Н</text>
<text transform="translate(953,921.9) scale(0.74,1)" x="0" y="0" font-size="14.2" fill="#1a1a1a" stroke="#1a1a1a" stroke-width="0.25" text-anchor="middle" font-family="Liberation Sans">А</text>
<text transform="translate(964.7,921.9) scale(0.74,1)" x="0" y="0" font-size="14.2" fill="#1a1a1a" stroke="#1a1a1a" stroke-width="0.25" text-anchor="middle" font-family="Liberation Sans">Ч</text>
<text transform="translate(976.4,921.9) scale(0.74,1)" x="0" y="0" font-size="14.2" fill="#1a1a1a" stroke="#1a1a1a" stroke-width="0.25" text-anchor="middle" font-family="Liberation Sans">Е</text>
<text transform="translate(988.1,921.9) scale(0.74,1)" x="0" y="0" font-size="14.2" fill="#1a1a1a" stroke="#1a1a1a" stroke-width="0.25" text-anchor="middle" font-family="Liberation Sans">Н</text>
<text transform="translate(999.8,921.9) scale(0.74,1)" x="0" y="0" font-size="14.2" fill="#1a1a1a" stroke="#1a1a1a" stroke-width="0.25" text-anchor="middle" font-family="Liberation Sans">И</text>
<text transform="translate(1011.5,921.9) scale(0.74,1)" x="0" y="0" font-size="14.2" fill="#1a1a1a" stroke="#1a1a1a" stroke-width="0.25" text-anchor="middle" font-family="Liberation Sans">Я</text>
<rect x="425.6" y="982.5" width="17.4" height="47.5" fill="#ddd" stroke="#222" stroke-width="1"/>
<rect x="438.9" y="982.5" width="4.1" height="47.5" fill="#333" stroke="none" stroke-width="1"/>
<text x="420" y="1008.3" font-size="11" fill="#222" text-anchor="middle" textLength="7" lengthAdjust="spacingAndGlyphs" font-family="Liberation Sans">+</text>
<line x1="446" y1="1004.5" x2="452" y2="1004.5" stroke="#222" stroke-width="1"/>
<text x="464.6" y="989.6" font-size="12.5" fill="#222" text-anchor="start" textLength="211.6" lengthAdjust="spacingAndGlyphs" font-family="Liberation Sans">- Газосиликатный блок D500 300 мм</text>
<text x="464.6" y="1007.8" font-size="12.5" fill="#222" text-anchor="start" textLength="157" lengthAdjust="spacingAndGlyphs" font-family="Liberation Sans">- Минеральная вата 50 мм</text>
<text x="464.6" y="1026" font-size="12.5" fill="#222" text-anchor="start" textLength="118" lengthAdjust="spacingAndGlyphs" font-family="Liberation Sans">- Наружная отделка</text>
<rect x="708.2" y="982.1" width="14.3" height="47.9" fill="#ddd" stroke="#222" stroke-width="1"/>
<text x="737.7" y="993.8" font-size="12.5" fill="#222" text-anchor="start" textLength="134.2" lengthAdjust="spacingAndGlyphs" font-family="Liberation Sans">- Газосиликатный блок</text>
<text x="748.2" y="1010.8" font-size="12.5" fill="#222" text-anchor="start" textLength="71.5" lengthAdjust="spacingAndGlyphs" font-family="Liberation Sans">D500 300 мм</text>
<rect x="948.7" y="984.7" width="4.9" height="45.3" fill="#ddd" stroke="#222" stroke-width="1"/>
<text x="971" y="996.9" font-size="12.5" fill="#222" text-anchor="start" textLength="134.2" lengthAdjust="spacingAndGlyphs" font-family="Liberation Sans">- Газосиликатный блок</text>
<text x="981.8" y="1014.2" font-size="12.5" fill="#222" text-anchor="start" textLength="71.5" lengthAdjust="spacingAndGlyphs" font-family="Liberation Sans">D500 100 мм</text>
<rect x="1182.5" y="990" width="13.5" height="17.7" fill="#fff" stroke="#222" stroke-width="2.4"/>
<rect x="1185.8" y="993" width="6.9" height="4.6" fill="#fff" stroke="#222" stroke-width="1.5"/>
<rect x="1185.8" y="1000.2" width="6.9" height="4.6" fill="#fff" stroke="#222" stroke-width="1.5"/>
<text x="1206.1" y="995.5" font-size="12.5" fill="#222" text-anchor="start" textLength="134.9" lengthAdjust="spacingAndGlyphs" font-family="Liberation Sans">- Керамзитобетонные</text>
<text x="1216.6" y="1012.6" font-size="12.5" fill="#222" text-anchor="start" textLength="131" lengthAdjust="spacingAndGlyphs" font-family="Liberation Sans">вентиляционные блоки</text>
<line x1="103.8" y1="139.5" x2="139.5" y2="139.5" stroke="#cfcfcf" stroke-width="0.8"/>
<line x1="154" y1="139.5" x2="160" y2="139.5" stroke="#cfcfcf" stroke-width="0.8"/>
<line x1="239.8" y1="139.5" x2="270" y2="139.5" stroke="#cfcfcf" stroke-width="0.8"/>
<line x1="145.5" y1="130.5" x2="145.5" y2="136" stroke="#777" stroke-width="0.9"/>
<line x1="213.5" y1="130.5" x2="213.5" y2="136" stroke="#777" stroke-width="0.9"/>
<line x1="161.5" y1="146" x2="161.5" y2="152" stroke="#777" stroke-width="0.9"/>
</svg></body></html>
